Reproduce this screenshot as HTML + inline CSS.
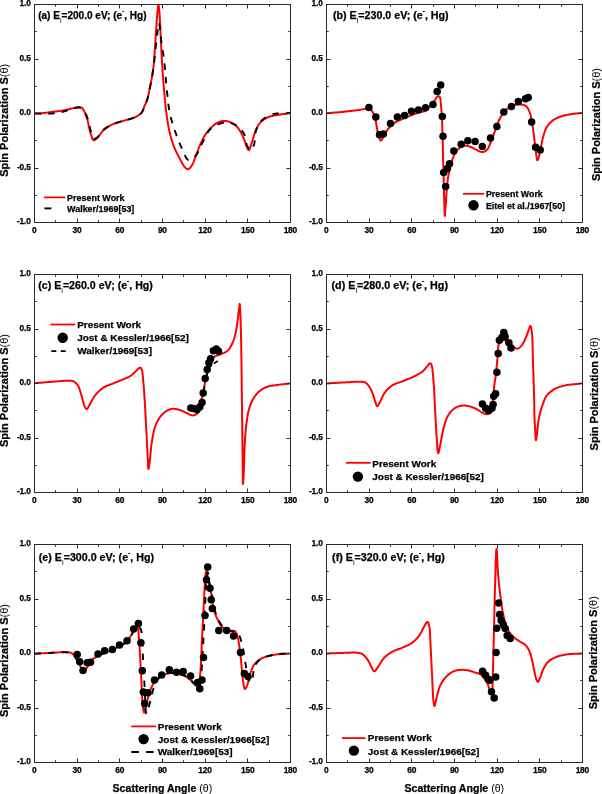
<!DOCTYPE html><html><head><meta charset="utf-8"><style>html,body{margin:0;padding:0;background:#fff;overflow:hidden}svg{display:block;will-change:transform}text{font-family:"Liberation Sans", sans-serif;font-weight:bold;fill:#000;stroke:#000;stroke-width:0.25px}.n{font-weight:normal;stroke-width:0}</style></head><body>
<svg width="602" height="794" viewBox="0 0 602 794">
<rect width="602" height="794" fill="#fff"/>
<clipPath id="ca"><rect x="34.50" y="3.50" width="256.00" height="220.00"/></clipPath>
<g clip-path="url(#ca)">
<path d="M34.70 113.30L35.31 113.29L35.91 113.29L36.51 113.30L37.11 113.30L37.71 113.30L38.31 113.30L38.92 113.30L39.52 113.30L40.14 113.29L40.75 113.27L41.37 113.24L42.00 113.20L42.69 113.15L43.37 113.08L44.06 113.00L44.75 112.92L45.44 112.83L46.14 112.73L46.85 112.63L47.57 112.53L48.30 112.42L49.05 112.31L49.82 112.21L50.60 112.10L51.62 111.97L52.69 111.83L53.80 111.70L54.94 111.56L56.11 111.41L57.28 111.26L58.45 111.11L59.61 110.96L60.74 110.80L61.84 110.64L62.90 110.47L63.90 110.30L64.65 110.16L65.38 110.02L66.09 109.87L66.78 109.71L67.45 109.56L68.12 109.40L68.78 109.25L69.42 109.09L70.07 108.94L70.71 108.79L71.35 108.64L72.00 108.50L72.60 108.37L73.22 108.22L73.84 108.07L74.46 107.91L75.08 107.76L75.69 107.61L76.29 107.48L76.86 107.35L77.42 107.25L77.95 107.17L78.44 107.12L78.90 107.10L79.16 107.10L79.42 107.11L79.66 107.12L79.89 107.14L80.12 107.17L80.34 107.21L80.55 107.25L80.75 107.30L80.95 107.36L81.14 107.43L81.32 107.51L81.50 107.60L81.65 107.69L81.80 107.78L81.93 107.88L82.06 107.99L82.18 108.10L82.30 108.23L82.42 108.35L82.54 108.49L82.65 108.63L82.76 108.78L82.88 108.94L83.00 109.10L83.17 109.35L83.35 109.62L83.52 109.91L83.69 110.21L83.86 110.53L84.02 110.86L84.19 111.20L84.35 111.55L84.52 111.91L84.68 112.27L84.84 112.63L85.00 113.00L85.19 113.45L85.38 113.90L85.57 114.36L85.75 114.82L85.93 115.30L86.12 115.79L86.30 116.29L86.48 116.81L86.66 117.35L86.84 117.91L87.02 118.49L87.20 119.10L87.48 120.09L87.75 121.18L88.03 122.36L88.31 123.60L88.58 124.88L88.86 126.19L89.14 127.49L89.42 128.76L89.69 129.99L89.96 131.16L90.23 132.23L90.50 133.20L90.67 133.77L90.84 134.33L91.01 134.88L91.18 135.41L91.35 135.92L91.52 136.41L91.68 136.88L91.85 137.32L92.01 137.74L92.18 138.12L92.34 138.48L92.50 138.80L92.58 138.96L92.66 139.12L92.74 139.27L92.82 139.42L92.89 139.56L92.97 139.69L93.04 139.81L93.12 139.91L93.21 140.01L93.30 140.09L93.40 140.15L93.50 140.20L93.61 140.23L93.72 140.24L93.84 140.24L93.96 140.22L94.08 140.19L94.21 140.15L94.34 140.10L94.47 140.05L94.61 139.99L94.74 139.93L94.87 139.86L95.00 139.80L95.17 139.71L95.33 139.62L95.49 139.53L95.66 139.42L95.82 139.30L95.99 139.18L96.16 139.05L96.33 138.90L96.51 138.75L96.70 138.58L96.90 138.40L97.10 138.20L97.54 137.74L98.00 137.18L98.50 136.54L99.01 135.83L99.56 135.08L100.12 134.30L100.70 133.50L101.30 132.71L101.91 131.93L102.53 131.20L103.16 130.51L103.80 129.90L104.42 129.36L105.05 128.85L105.70 128.35L106.36 127.88L107.03 127.42L107.71 126.98L108.41 126.55L109.12 126.14L109.84 125.74L110.58 125.35L111.33 124.97L112.10 124.60L112.99 124.20L113.93 123.81L114.91 123.43L115.91 123.08L116.93 122.73L117.96 122.40L118.98 122.09L120.00 121.79L120.98 121.50L121.94 121.22L122.85 120.95L123.70 120.70L124.29 120.53L124.86 120.36L125.42 120.22L125.96 120.07L126.49 119.94L127.00 119.81L127.51 119.68L128.01 119.56L128.51 119.43L129.01 119.29L129.50 119.15L130.00 119.00L130.46 118.85L130.93 118.71L131.40 118.56L131.86 118.40L132.32 118.25L132.78 118.09L133.22 117.93L133.66 117.77L134.09 117.61L134.51 117.44L134.91 117.27L135.30 117.10L135.60 116.96L135.90 116.82L136.18 116.67L136.46 116.53L136.73 116.38L137.00 116.23L137.26 116.08L137.51 115.93L137.76 115.78L138.01 115.62L138.26 115.46L138.50 115.30L138.72 115.15L138.94 115.01L139.15 114.86L139.36 114.71L139.56 114.56L139.77 114.41L139.97 114.26L140.16 114.10L140.35 113.93L140.54 113.76L140.72 113.59L140.90 113.40L141.08 113.20L141.26 112.99L141.43 112.78L141.60 112.56L141.76 112.33L141.92 112.10L142.08 111.87L142.23 111.62L142.37 111.38L142.52 111.12L142.66 110.86L142.80 110.60L142.95 110.28L143.10 109.96L143.23 109.62L143.36 109.28L143.49 108.93L143.61 108.57L143.73 108.21L143.85 107.83L143.98 107.46L144.11 107.08L144.25 106.69L144.40 106.30L144.60 105.82L144.81 105.33L145.03 104.84L145.26 104.34L145.50 103.83L145.73 103.31L145.97 102.78L146.21 102.24L146.45 101.68L146.67 101.11L146.89 100.51L147.10 99.90L147.36 99.05L147.61 98.15L147.86 97.21L148.09 96.23L148.32 95.23L148.54 94.20L148.76 93.17L148.97 92.13L149.18 91.10L149.39 90.08L149.60 89.08L149.80 88.10L149.99 87.19L150.18 86.29L150.37 85.39L150.55 84.50L150.73 83.61L150.91 82.72L151.08 81.84L151.25 80.95L151.42 80.07L151.58 79.18L151.74 78.29L151.90 77.40L152.05 76.52L152.20 75.64L152.35 74.78L152.49 73.92L152.63 73.06L152.76 72.19L152.89 71.32L153.02 70.43L153.15 69.53L153.27 68.61L153.39 67.67L153.50 66.70L153.63 65.48L153.76 64.22L153.88 62.93L154.00 61.60L154.11 60.26L154.21 58.89L154.32 57.52L154.41 56.14L154.51 54.77L154.61 53.40L154.70 52.04L154.80 50.70L154.89 49.39L154.98 48.10L155.06 46.82L155.14 45.54L155.22 44.26L155.30 42.98L155.38 41.70L155.46 40.40L155.54 39.08L155.62 37.75L155.71 36.39L155.80 35.00L155.91 33.33L156.03 31.58L156.14 29.76L156.27 27.91L156.39 26.03L156.52 24.15L156.64 22.30L156.77 20.48L156.90 18.72L157.03 17.04L157.17 15.46L157.30 14.00L157.39 13.04L157.48 12.04L157.57 11.00L157.66 9.97L157.75 8.97L157.84 8.02L157.94 7.14L158.03 6.37L158.12 5.72L158.21 5.23L158.31 4.91L158.40 4.80L158.48 4.88L158.57 5.13L158.65 5.51L158.74 6.01L158.83 6.61L158.92 7.29L159.00 8.04L159.09 8.82L159.17 9.63L159.25 10.44L159.33 11.24L159.40 12.00L159.51 13.21L159.61 14.49L159.70 15.86L159.78 17.29L159.87 18.77L159.94 20.31L160.02 21.88L160.09 23.48L160.17 25.10L160.24 26.73L160.32 28.37L160.40 30.00L160.50 31.94L160.59 33.93L160.69 35.96L160.78 38.03L160.88 40.13L160.97 42.25L161.07 44.38L161.17 46.52L161.27 48.66L161.38 50.79L161.49 52.91L161.60 55.00L161.72 57.09L161.84 59.18L161.96 61.29L162.09 63.40L162.22 65.52L162.35 67.62L162.48 69.72L162.62 71.80L162.76 73.87L162.90 75.91L163.05 77.92L163.20 79.90L163.34 81.67L163.49 83.46L163.64 85.24L163.79 87.02L163.95 88.78L164.11 90.52L164.26 92.23L164.42 93.90L164.57 95.51L164.72 97.08L164.86 98.58L165.00 100.00L165.09 100.95L165.17 101.85L165.25 102.70L165.33 103.53L165.40 104.33L165.48 105.11L165.55 105.89L165.63 106.67L165.71 107.46L165.80 108.27L165.90 109.12L166.00 110.00L166.13 111.10L166.27 112.24L166.42 113.41L166.57 114.60L166.73 115.81L166.89 117.03L167.06 118.25L167.24 119.47L167.42 120.68L167.61 121.88L167.80 123.05L168.00 124.20L168.19 125.24L168.38 126.27L168.57 127.28L168.76 128.29L168.96 129.29L169.17 130.28L169.39 131.27L169.61 132.25L169.84 133.24L170.08 134.22L170.33 135.21L170.60 136.20L170.88 137.21L171.17 138.22L171.47 139.24L171.78 140.25L172.09 141.27L172.42 142.28L172.76 143.28L173.10 144.29L173.46 145.28L173.83 146.26L174.21 147.24L174.60 148.20L174.99 149.12L175.40 150.04L175.83 150.96L176.26 151.87L176.71 152.77L177.16 153.67L177.62 154.55L178.08 155.43L178.54 156.29L179.00 157.14L179.45 157.98L179.90 158.80L180.29 159.53L180.68 160.27L181.07 161.01L181.45 161.76L181.84 162.49L182.23 163.21L182.62 163.91L183.01 164.57L183.40 165.20L183.80 165.79L184.20 166.32L184.60 166.80L184.87 167.10L185.14 167.39L185.41 167.69L185.68 167.97L185.96 168.23L186.23 168.47L186.51 168.69L186.79 168.87L187.06 169.02L187.34 169.13L187.62 169.19L187.90 169.20L188.23 169.14L188.57 169.00L188.92 168.80L189.26 168.54L189.62 168.23L189.96 167.88L190.31 167.50L190.65 167.10L190.98 166.68L191.30 166.25L191.61 165.82L191.90 165.40L192.24 164.87L192.55 164.31L192.85 163.71L193.12 163.09L193.38 162.44L193.64 161.78L193.89 161.09L194.13 160.39L194.39 159.68L194.64 158.96L194.91 158.23L195.20 157.50L195.56 156.59L195.93 155.64L196.30 154.66L196.68 153.65L197.06 152.63L197.45 151.60L197.85 150.56L198.24 149.52L198.65 148.49L199.06 147.47L199.48 146.47L199.90 145.50L200.31 144.58L200.72 143.66L201.13 142.74L201.54 141.82L201.96 140.91L202.39 140.01L202.82 139.12L203.27 138.24L203.73 137.38L204.20 136.53L204.69 135.71L205.20 134.90L205.69 134.16L206.20 133.43L206.72 132.70L207.25 131.99L207.79 131.29L208.34 130.60L208.90 129.94L209.47 129.29L210.04 128.65L210.62 128.05L211.21 127.46L211.80 126.90L212.33 126.42L212.86 125.95L213.41 125.49L213.95 125.04L214.51 124.61L215.06 124.19L215.63 123.80L216.19 123.43L216.76 123.08L217.34 122.76L217.92 122.46L218.50 122.20L219.03 121.98L219.57 121.78L220.12 121.60L220.66 121.44L221.22 121.30L221.77 121.17L222.33 121.07L222.88 120.99L223.44 120.93L224.00 120.90L224.55 120.89L225.10 120.90L225.66 120.94L226.23 121.01L226.81 121.11L227.38 121.24L227.96 121.39L228.53 121.56L229.10 121.75L229.66 121.95L230.22 122.17L230.76 122.40L231.29 122.65L231.80 122.90L232.29 123.15L232.76 123.42L233.23 123.69L233.68 123.98L234.13 124.28L234.57 124.60L235.01 124.94L235.44 125.29L235.86 125.66L236.28 126.05L236.69 126.46L237.10 126.90L237.62 127.49L238.13 128.14L238.63 128.82L239.13 129.55L239.62 130.30L240.10 131.08L240.57 131.87L241.02 132.68L241.47 133.49L241.89 134.30L242.31 135.11L242.70 135.90L243.07 136.69L243.41 137.50L243.74 138.33L244.05 139.18L244.35 140.03L244.64 140.88L244.92 141.71L245.19 142.54L245.47 143.33L245.74 144.10L246.02 144.82L246.30 145.50L246.51 145.99L246.71 146.50L246.91 147.03L247.11 147.56L247.31 148.07L247.50 148.56L247.70 149.01L247.90 149.41L248.10 149.74L248.30 149.99L248.50 150.15L248.70 150.20L248.95 150.11L249.19 149.85L249.44 149.46L249.69 148.96L249.94 148.35L250.19 147.67L250.44 146.93L250.69 146.16L250.94 145.37L251.19 144.58L251.45 143.82L251.70 143.10L252.04 142.14L252.37 141.10L252.69 140.00L253.02 138.87L253.34 137.70L253.67 136.51L254.01 135.33L254.35 134.16L254.71 133.02L255.09 131.92L255.48 130.87L255.90 129.90L256.25 129.15L256.60 128.41L256.95 127.70L257.31 127.00L257.68 126.32L258.06 125.66L258.45 125.01L258.86 124.39L259.29 123.79L259.74 123.20L260.21 122.64L260.70 122.10L261.20 121.60L261.72 121.11L262.26 120.65L262.82 120.21L263.40 119.78L263.99 119.37L264.59 118.98L265.21 118.61L265.84 118.26L266.49 117.92L267.14 117.60L267.80 117.30L268.52 117.00L269.27 116.74L270.02 116.50L270.80 116.29L271.58 116.10L272.38 115.92L273.20 115.76L274.02 115.61L274.85 115.46L275.70 115.31L276.54 115.16L277.40 115.00L278.39 114.82L279.40 114.65L280.42 114.49L281.47 114.34L282.52 114.19L283.59 114.05L284.66 113.91L285.73 113.77L286.81 113.63L287.88 113.49L288.94 113.35L290.00 113.20" fill="none" stroke="#f00" stroke-width="2" stroke-linejoin="round"/>
<path d="M34.70 113.60L35.99 113.60L37.29 113.62L38.60 113.64L39.92 113.66L41.24 113.68L42.55 113.69L43.86 113.71L45.14 113.71L46.41 113.71L47.64 113.69L48.84 113.65L50.00 113.60L50.91 113.55L51.79 113.49L52.66 113.44L53.50 113.37L54.33 113.30L55.15 113.23L55.96 113.14L56.76 113.04L57.56 112.93L58.37 112.80L59.18 112.66L60.00 112.50L60.84 112.31L61.68 112.10L62.52 111.86L63.37 111.61L64.21 111.34L65.04 111.06L65.88 110.78L66.71 110.50L67.54 110.23L68.36 109.97L69.18 109.72L70.00 109.50L70.77 109.29L71.55 109.05L72.34 108.80L73.14 108.55L73.93 108.30L74.71 108.07L75.48 107.86L76.22 107.69L76.95 107.56L77.64 107.47L78.29 107.45L78.90 107.50L79.31 107.57L79.70 107.67L80.08 107.79L80.44 107.93L80.78 108.09L81.12 108.27L81.44 108.48L81.76 108.70L82.07 108.95L82.38 109.21L82.69 109.50L83.00 109.80L83.43 110.27L83.86 110.81L84.27 111.39L84.68 112.03L85.07 112.70L85.45 113.41L85.83 114.14L86.19 114.90L86.53 115.67L86.87 116.45L87.19 117.23L87.50 118.00L87.83 118.91L88.13 119.87L88.40 120.86L88.65 121.88L88.89 122.91L89.11 123.96L89.33 125.01L89.55 126.06L89.77 127.09L90.00 128.09L90.24 129.07L90.50 130.00L90.73 130.81L90.94 131.67L91.15 132.55L91.35 133.45L91.56 134.33L91.78 135.18L92.01 135.99L92.25 136.72L92.52 137.37L92.81 137.91L93.14 138.33L93.50 138.60L93.75 138.70L94.02 138.75L94.30 138.75L94.59 138.72L94.89 138.65L95.20 138.55L95.51 138.42L95.83 138.26L96.15 138.09L96.47 137.90L96.78 137.71L97.10 137.50L97.62 137.09L98.14 136.58L98.67 135.97L99.19 135.29L99.73 134.56L100.27 133.80L100.82 133.01L101.39 132.23L101.97 131.47L102.56 130.75L103.17 130.09L103.80 129.50L104.42 128.99L105.06 128.51L105.70 128.05L106.36 127.61L107.03 127.20L107.72 126.79L108.42 126.41L109.13 126.03L109.85 125.67L110.59 125.31L111.34 124.95L112.10 124.60L112.99 124.21L113.94 123.83L114.91 123.46L115.92 123.11L116.94 122.76L117.97 122.43L118.99 122.11L120.00 121.80L120.99 121.51L121.94 121.22L122.85 120.96L123.70 120.70L124.29 120.53L124.86 120.36L125.42 120.22L125.96 120.07L126.49 119.94L127.00 119.81L127.51 119.68L128.01 119.56L128.51 119.43L129.01 119.29L129.50 119.15L130.00 119.00L130.46 118.85L130.93 118.71L131.40 118.56L131.86 118.40L132.32 118.25L132.78 118.09L133.22 117.93L133.66 117.77L134.09 117.61L134.51 117.44L134.91 117.27L135.30 117.10L135.60 116.96L135.90 116.82L136.18 116.67L136.46 116.53L136.73 116.38L137.00 116.23L137.26 116.08L137.51 115.93L137.76 115.78L138.01 115.62L138.26 115.46L138.50 115.30L138.72 115.15L138.94 115.01L139.15 114.86L139.36 114.71L139.56 114.56L139.77 114.41L139.97 114.26L140.16 114.10L140.35 113.93L140.54 113.76L140.72 113.59L140.90 113.40L141.08 113.20L141.26 112.99L141.43 112.78L141.60 112.56L141.76 112.33L141.92 112.10L142.08 111.87L142.23 111.62L142.37 111.38L142.52 111.12L142.66 110.86L142.80 110.60L142.95 110.28L143.10 109.96L143.23 109.62L143.36 109.28L143.49 108.93L143.61 108.57L143.73 108.21L143.85 107.83L143.98 107.46L144.11 107.08L144.25 106.69L144.40 106.30L144.60 105.82L144.81 105.33L145.03 104.84L145.26 104.34L145.50 103.83L145.73 103.31L145.97 102.78L146.21 102.24L146.45 101.68L146.67 101.11L146.89 100.51L147.10 99.90L147.36 99.05L147.61 98.15L147.86 97.21L148.09 96.23L148.32 95.23L148.54 94.20L148.76 93.17L148.97 92.13L149.18 91.10L149.39 90.08L149.60 89.08L149.80 88.10L149.99 87.19L150.18 86.29L150.37 85.39L150.55 84.50L150.73 83.61L150.91 82.72L151.08 81.84L151.25 80.95L151.42 80.07L151.58 79.18L151.74 78.29L151.90 77.40L152.05 76.51L152.20 75.62L152.34 74.74L152.48 73.85L152.61 72.97L152.75 72.08L152.88 71.20L153.00 70.31L153.13 69.41L153.25 68.51L153.38 67.61L153.50 66.70L153.63 65.75L153.75 64.81L153.87 63.86L153.98 62.92L154.09 61.97L154.21 61.02L154.32 60.06L154.43 59.08L154.55 58.09L154.66 57.08L154.78 56.05L154.90 55.00L155.05 53.69L155.20 52.34L155.35 50.95L155.50 49.53L155.66 48.09L155.81 46.63L155.97 45.17L156.13 43.71L156.30 42.25L156.46 40.81L156.63 39.39L156.80 38.00L156.97 36.61L157.14 35.08L157.31 33.45L157.49 31.78L157.67 30.12L157.85 28.51L158.03 27.01L158.21 25.66L158.39 24.53L158.57 23.66L158.74 23.10L158.90 22.90L159.02 23.02L159.15 23.35L159.27 23.87L159.39 24.55L159.51 25.35L159.63 26.25L159.74 27.22L159.86 28.22L159.97 29.23L160.08 30.22L160.19 31.15L160.30 32.00L160.42 32.89L160.53 33.78L160.63 34.69L160.73 35.60L160.83 36.52L160.93 37.45L161.03 38.39L161.14 39.34L161.24 40.29L161.35 41.25L161.47 42.22L161.60 43.20L161.75 44.31L161.92 45.42L162.09 46.56L162.27 47.70L162.45 48.86L162.64 50.02L162.83 51.19L163.02 52.37L163.20 53.55L163.37 54.73L163.54 55.92L163.70 57.10L163.86 58.33L164.01 59.57L164.15 60.82L164.29 62.08L164.43 63.33L164.57 64.60L164.70 65.86L164.82 67.12L164.95 68.37L165.07 69.62L165.18 70.87L165.30 72.10L165.41 73.28L165.50 74.45L165.59 75.61L165.68 76.77L165.76 77.93L165.85 79.08L165.93 80.24L166.01 81.39L166.10 82.54L166.19 83.69L166.29 84.84L166.40 86.00L166.52 87.16L166.64 88.32L166.76 89.49L166.89 90.66L167.03 91.82L167.16 92.99L167.30 94.15L167.44 95.31L167.58 96.47L167.72 97.62L167.86 98.76L168.00 99.90L168.12 100.98L168.23 102.03L168.33 103.08L168.43 104.11L168.52 105.14L168.62 106.17L168.73 107.21L168.86 108.26L169.00 109.33L169.17 110.42L169.37 111.54L169.60 112.70L169.95 114.25L170.35 115.88L170.80 117.57L171.28 119.30L171.80 121.06L172.34 122.84L172.90 124.62L173.47 126.38L174.04 128.12L174.61 129.81L175.16 131.44L175.70 133.00L176.13 134.25L176.56 135.46L176.99 136.65L177.42 137.81L177.85 138.95L178.28 140.07L178.72 141.18L179.17 142.29L179.63 143.39L180.10 144.49L180.59 145.59L181.10 146.70L181.63 147.89L182.18 149.18L182.75 150.53L183.33 151.92L183.93 153.30L184.53 154.65L185.14 155.91L185.75 157.07L186.37 158.09L186.98 158.92L187.59 159.53L188.20 159.90L188.51 159.99L188.83 160.01L189.15 159.99L189.47 159.91L189.78 159.80L190.10 159.65L190.42 159.48L190.74 159.30L191.06 159.10L191.37 158.89L191.69 158.69L192.00 158.50L192.37 158.28L192.74 158.04L193.12 157.79L193.49 157.53L193.85 157.26L194.22 156.96L194.59 156.65L194.95 156.31L195.32 155.95L195.68 155.56L196.04 155.15L196.40 154.70L196.97 153.90L197.54 152.99L198.10 151.97L198.65 150.88L199.21 149.73L199.76 148.54L200.31 147.32L200.86 146.08L201.42 144.86L201.97 143.66L202.53 142.50L203.10 141.40L203.63 140.38L204.13 139.35L204.62 138.31L205.11 137.27L205.60 136.24L206.10 135.22L206.61 134.22L207.15 133.25L207.72 132.32L208.33 131.43L208.99 130.59L209.70 129.80L210.46 129.08L211.28 128.39L212.17 127.72L213.09 127.09L214.05 126.49L215.02 125.92L216.00 125.40L216.97 124.91L217.91 124.46L218.83 124.06L219.69 123.71L220.50 123.40L221.01 123.23L221.51 123.08L222.00 122.95L222.47 122.85L222.94 122.76L223.40 122.69L223.85 122.64L224.30 122.60L224.73 122.56L225.16 122.54L225.58 122.52L226.00 122.50L226.33 122.49L226.65 122.48L226.96 122.48L227.26 122.48L227.56 122.49L227.85 122.51L228.14 122.54L228.44 122.57L228.74 122.61L229.05 122.67L229.37 122.73L229.70 122.80L230.15 122.91L230.61 123.02L231.09 123.15L231.57 123.29L232.06 123.44L232.57 123.61L233.07 123.80L233.58 124.01L234.09 124.25L234.59 124.50L235.10 124.79L235.60 125.10L236.30 125.58L237.02 126.11L237.77 126.69L238.52 127.31L239.28 127.98L240.03 128.69L240.77 129.43L241.48 130.20L242.15 131.00L242.79 131.81L243.37 132.65L243.90 133.50L244.38 134.48L244.79 135.56L245.12 136.71L245.40 137.92L245.64 139.16L245.86 140.41L246.07 141.64L246.29 142.83L246.52 143.95L246.80 144.99L247.12 145.91L247.50 146.70L247.77 147.14L248.05 147.57L248.35 148.00L248.65 148.42L248.97 148.81L249.29 149.16L249.61 149.48L249.93 149.75L250.24 149.97L250.54 150.12L250.83 150.20L251.10 150.20L251.40 150.09L251.69 149.86L251.97 149.54L252.24 149.12L252.51 148.64L252.77 148.09L253.01 147.49L253.25 146.87L253.48 146.22L253.70 145.57L253.90 144.92L254.10 144.30L254.34 143.39L254.52 142.40L254.66 141.34L254.77 140.22L254.86 139.07L254.95 137.89L255.03 136.70L255.13 135.51L255.25 134.35L255.42 133.21L255.63 132.13L255.90 131.10L256.18 130.22L256.46 129.34L256.76 128.48L257.08 127.63L257.42 126.79L257.78 125.97L258.17 125.17L258.60 124.39L259.06 123.63L259.56 122.89L260.10 122.18L260.70 121.50L261.44 120.75L262.25 120.02L263.11 119.31L264.03 118.63L265.00 117.98L266.01 117.35L267.05 116.76L268.13 116.21L269.23 115.69L270.34 115.22L271.47 114.79L272.60 114.40L273.90 114.04L275.25 113.76L276.65 113.56L278.08 113.42L279.55 113.32L281.03 113.27L282.53 113.23L284.04 113.21L285.55 113.19L287.05 113.15L288.54 113.09L290.00 113.00" fill="none" stroke="#000" stroke-width="1.9" stroke-dasharray="6.5 7" stroke-linejoin="round"/>
</g>
<rect x="34.50" y="4.50" width="256.00" height="218.00" fill="none" stroke="#2a2a2a" stroke-width="1"/>
<path d="M55.50 222.50V220.30M55.50 4.50V6.70M77.50 222.50V218.50M77.50 4.50V8.50M98.50 222.50V220.30M98.50 4.50V6.70M119.50 222.50V218.50M119.50 4.50V8.50M141.50 222.50V220.30M141.50 4.50V6.70M162.50 222.50V218.50M162.50 4.50V8.50M183.50 222.50V220.30M183.50 4.50V6.70M205.50 222.50V218.50M205.50 4.50V8.50M226.50 222.50V220.30M226.50 4.50V6.70M247.50 222.50V218.50M247.50 4.50V8.50M269.50 222.50V220.30M269.50 4.50V6.70M34.50 31.50H36.70M290.50 31.50H288.30M34.50 59.50H38.50M290.50 59.50H286.50M34.50 86.50H36.70M290.50 86.50H288.30M34.50 113.50H38.50M290.50 113.50H286.50M34.50 140.50H36.70M290.50 140.50H288.30M34.50 168.50H38.50M290.50 168.50H286.50M34.50 195.50H36.70M290.50 195.50H288.30" stroke="#2a2a2a" stroke-width="1" fill="none"/>
<text x="34.35" y="233.30" font-size="8.4" text-anchor="middle" letter-spacing="-0.2">0</text>
<text x="77.02" y="233.30" font-size="8.4" text-anchor="middle" letter-spacing="-0.2">30</text>
<text x="119.68" y="233.30" font-size="8.4" text-anchor="middle" letter-spacing="-0.2">60</text>
<text x="162.35" y="233.30" font-size="8.4" text-anchor="middle" letter-spacing="-0.2">90</text>
<text x="205.02" y="233.30" font-size="8.4" text-anchor="middle" letter-spacing="-0.2">120</text>
<text x="247.68" y="233.30" font-size="8.4" text-anchor="middle" letter-spacing="-0.2">150</text>
<text x="290.35" y="233.30" font-size="8.4" text-anchor="middle" letter-spacing="-0.2">180</text>
<text x="30.60" y="6.40" font-size="8.4" text-anchor="end" letter-spacing="-0.2">1.0</text>
<text x="30.60" y="60.90" font-size="8.4" text-anchor="end" letter-spacing="-0.2">0.5</text>
<text x="30.60" y="115.40" font-size="8.4" text-anchor="end" letter-spacing="-0.2">0.0</text>
<text x="30.60" y="169.90" font-size="8.4" text-anchor="end" letter-spacing="-0.2">-0.5</text>
<text x="30.60" y="224.40" font-size="8.4" text-anchor="end" letter-spacing="-0.2">-1.0</text>
<text x="38.20" y="18.80" font-size="10.05">(a) E<tspan font-size="7.04" dy="3.82" class="n">i</tspan><tspan dy="-3.82">=200.0 eV; (e</tspan><tspan font-size="6.03" dy="-5.53">-</tspan><tspan dy="5.53">, Hg)</tspan></text>
<clipPath id="cb"><rect x="326.50" y="3.50" width="256.00" height="220.00"/></clipPath>
<g clip-path="url(#cb)">
<path d="M326.60 113.20L327.93 113.09L329.26 112.99L330.59 112.89L331.92 112.79L333.25 112.69L334.58 112.59L335.91 112.49L337.25 112.38L338.58 112.27L339.92 112.15L341.26 112.03L342.60 111.90L343.99 111.76L345.42 111.60L346.86 111.44L348.33 111.28L349.79 111.11L351.24 110.93L352.68 110.75L354.08 110.58L355.45 110.40L356.76 110.23L358.02 110.06L359.20 109.90L360.01 109.78L360.82 109.65L361.61 109.52L362.39 109.38L363.15 109.25L363.88 109.12L364.59 108.99L365.26 108.88L365.89 108.78L366.48 108.70L367.02 108.64L367.50 108.60L367.71 108.59L367.91 108.57L368.10 108.56L368.27 108.55L368.44 108.54L368.60 108.53L368.75 108.54L368.90 108.55L369.04 108.57L369.19 108.60L369.34 108.64L369.50 108.70L369.69 108.79L369.88 108.90L370.07 109.03L370.26 109.17L370.45 109.33L370.63 109.50L370.81 109.68L370.99 109.87L371.17 110.07L371.35 110.28L371.53 110.49L371.70 110.70L371.92 110.98L372.15 111.28L372.37 111.59L372.60 111.92L372.82 112.25L373.04 112.60L373.25 112.97L373.46 113.34L373.66 113.72L373.85 114.10L374.03 114.50L374.20 114.90L374.38 115.38L374.55 115.87L374.70 116.37L374.84 116.88L374.96 117.40L375.08 117.94L375.20 118.49L375.31 119.06L375.42 119.64L375.54 120.24L375.67 120.86L375.80 121.50L375.99 122.46L376.18 123.51L376.37 124.63L376.56 125.80L376.75 127.00L376.95 128.22L377.15 129.43L377.35 130.62L377.57 131.77L377.80 132.86L378.04 133.88L378.30 134.80L378.48 135.41L378.67 136.05L378.86 136.69L379.06 137.34L379.26 137.96L379.47 138.55L379.68 139.09L379.89 139.57L380.11 139.98L380.34 140.30L380.57 140.51L380.80 140.60L380.99 140.58L381.19 140.48L381.39 140.31L381.59 140.09L381.79 139.81L382.00 139.49L382.21 139.15L382.43 138.78L382.64 138.40L382.86 138.02L383.08 137.65L383.30 137.30L383.62 136.78L383.93 136.22L384.25 135.63L384.57 135.00L384.89 134.35L385.23 133.68L385.57 133.01L385.92 132.34L386.29 131.67L386.67 131.02L387.07 130.40L387.50 129.80L387.97 129.20L388.45 128.60L388.95 128.01L389.47 127.42L390.00 126.84L390.55 126.27L391.11 125.72L391.69 125.18L392.28 124.65L392.87 124.15L393.48 123.66L394.10 123.20L394.73 122.77L395.37 122.36L396.03 121.97L396.71 121.61L397.39 121.26L398.08 120.93L398.79 120.60L399.50 120.28L400.22 119.97L400.94 119.65L401.67 119.33L402.40 119.00L403.20 118.64L404.02 118.28L404.85 117.92L405.70 117.57L406.56 117.22L407.41 116.87L408.27 116.53L409.12 116.19L409.97 115.86L410.80 115.53L411.61 115.21L412.40 114.90L413.07 114.63L413.73 114.36L414.39 114.10L415.04 113.83L415.68 113.57L416.32 113.32L416.95 113.07L417.57 112.83L418.19 112.61L418.80 112.39L419.40 112.19L420.00 112.00L420.51 111.87L421.00 111.77L421.50 111.70L421.98 111.64L422.47 111.59L422.95 111.54L423.42 111.48L423.90 111.40L424.37 111.30L424.85 111.15L425.32 110.95L425.80 110.70L426.50 110.22L427.21 109.63L427.94 108.93L428.66 108.16L429.39 107.32L430.11 106.44L430.82 105.54L431.51 104.64L432.17 103.76L432.82 102.91L433.43 102.12L434.00 101.40L434.39 100.89L434.77 100.35L435.14 99.79L435.49 99.23L435.84 98.68L436.17 98.15L436.49 97.65L436.81 97.21L437.11 96.83L437.41 96.52L437.71 96.31L438.00 96.20L438.16 96.18L438.33 96.19L438.49 96.22L438.66 96.28L438.82 96.35L438.97 96.44L439.13 96.55L439.27 96.68L439.42 96.82L439.55 96.97L439.68 97.13L439.80 97.30L440.00 97.68L440.16 98.13L440.30 98.65L440.40 99.24L440.49 99.87L440.56 100.55L440.62 101.25L440.67 101.98L440.71 102.72L440.77 103.46L440.83 104.19L440.90 104.90L441.00 105.78L441.10 106.69L441.19 107.63L441.28 108.58L441.37 109.56L441.46 110.54L441.55 111.54L441.63 112.54L441.70 113.54L441.77 114.54L441.84 115.52L441.90 116.50L441.95 117.47L442.00 118.43L442.04 119.40L442.08 120.36L442.11 121.33L442.14 122.30L442.16 123.26L442.19 124.23L442.21 125.20L442.24 126.16L442.27 127.13L442.30 128.10L442.33 129.06L442.37 130.01L442.40 130.95L442.44 131.88L442.47 132.81L442.51 133.75L442.54 134.70L442.57 135.66L442.61 136.65L442.64 137.67L442.67 138.71L442.70 139.80L442.74 141.30L442.77 142.87L442.81 144.51L442.84 146.20L442.87 147.93L442.90 149.68L442.93 151.45L442.96 153.21L442.99 154.97L443.03 156.69L443.06 158.37L443.10 160.00L443.14 161.42L443.18 162.81L443.22 164.18L443.26 165.52L443.30 166.85L443.34 168.18L443.38 169.51L443.43 170.85L443.47 172.21L443.51 173.60L443.56 175.03L443.60 176.50L443.65 178.31L443.70 180.20L443.75 182.14L443.79 184.13L443.84 186.14L443.89 188.16L443.94 190.19L443.99 192.20L444.04 194.18L444.09 196.11L444.15 197.99L444.20 199.80L444.25 201.36L444.29 203.04L444.34 204.82L444.38 206.62L444.43 208.40L444.48 210.11L444.53 211.69L444.58 213.11L444.63 214.29L444.68 215.21L444.74 215.79L444.80 216.00L444.84 215.92L444.88 215.68L444.92 215.32L444.96 214.86L445.00 214.31L445.05 213.69L445.09 213.04L445.13 212.38L445.18 211.72L445.22 211.09L445.26 210.51L445.30 210.00L445.33 209.62L445.37 209.26L445.40 208.92L445.43 208.59L445.46 208.27L445.49 207.94L445.53 207.61L445.56 207.26L445.59 206.89L445.63 206.49L445.66 206.07L445.70 205.60L445.78 204.54L445.86 203.33L445.94 201.99L446.03 200.55L446.12 199.03L446.22 197.45L446.32 195.84L446.43 194.21L446.54 192.60L446.65 191.03L446.77 189.52L446.90 188.10L447.02 186.88L447.13 185.67L447.25 184.48L447.37 183.29L447.49 182.12L447.62 180.96L447.76 179.81L447.90 178.67L448.06 177.54L448.22 176.42L448.40 175.30L448.60 174.20L448.79 173.19L449.00 172.18L449.21 171.18L449.44 170.19L449.67 169.21L449.91 168.23L450.16 167.27L450.41 166.31L450.68 165.37L450.95 164.43L451.22 163.51L451.50 162.60L451.76 161.77L452.01 160.95L452.26 160.12L452.51 159.31L452.77 158.50L453.04 157.70L453.32 156.91L453.62 156.15L453.93 155.40L454.26 154.67L454.62 153.97L455.00 153.30L455.36 152.72L455.74 152.14L456.14 151.57L456.56 151.01L456.99 150.47L457.43 149.95L457.88 149.45L458.34 148.97L458.80 148.53L459.27 148.11L459.73 147.74L460.20 147.40L460.57 147.16L460.95 146.93L461.33 146.72L461.71 146.54L462.09 146.37L462.48 146.22L462.87 146.08L463.27 145.97L463.67 145.87L464.08 145.80L464.49 145.74L464.90 145.70L465.36 145.68L465.83 145.70L466.31 145.74L466.79 145.81L467.28 145.90L467.77 146.01L468.27 146.13L468.76 146.27L469.25 146.42L469.74 146.57L470.22 146.74L470.70 146.90L471.19 147.08L471.68 147.29L472.17 147.52L472.65 147.76L473.13 148.02L473.61 148.28L474.09 148.55L474.57 148.81L475.05 149.08L475.53 149.33L476.01 149.57L476.50 149.80L476.98 150.03L477.47 150.27L477.96 150.53L478.45 150.79L478.94 151.05L479.44 151.30L479.93 151.53L480.41 151.73L480.90 151.89L481.37 152.01L481.84 152.09L482.30 152.10L482.72 152.07L483.14 152.00L483.55 151.89L483.97 151.76L484.38 151.60L484.79 151.41L485.19 151.19L485.58 150.95L485.95 150.69L486.32 150.41L486.67 150.11L487.00 149.80L487.38 149.38L487.73 148.92L488.05 148.41L488.35 147.87L488.64 147.30L488.91 146.69L489.17 146.07L489.43 145.43L489.69 144.78L489.95 144.12L490.22 143.46L490.50 142.80L490.85 141.99L491.19 141.15L491.53 140.29L491.87 139.41L492.21 138.51L492.55 137.60L492.88 136.67L493.22 135.74L493.56 134.81L493.91 133.87L494.25 132.93L494.60 132.00L494.97 131.00L495.33 129.98L495.68 128.95L496.04 127.90L496.39 126.85L496.75 125.80L497.12 124.76L497.50 123.72L497.90 122.71L498.31 121.71L498.74 120.74L499.20 119.80L499.64 118.95L500.09 118.11L500.54 117.27L501.01 116.44L501.49 115.63L501.99 114.83L502.50 114.05L503.02 113.30L503.56 112.58L504.12 111.88L504.70 111.22L505.30 110.60L505.86 110.07L506.44 109.55L507.04 109.06L507.66 108.59L508.29 108.14L508.93 107.71L509.58 107.31L510.24 106.94L510.90 106.59L511.57 106.26L512.24 105.97L512.90 105.70L513.52 105.48L514.16 105.28L514.82 105.10L515.48 104.94L516.14 104.81L516.81 104.70L517.47 104.61L518.12 104.54L518.77 104.50L519.40 104.48L520.01 104.48L520.60 104.50L521.09 104.53L521.57 104.58L522.05 104.64L522.53 104.72L523.00 104.81L523.45 104.91L523.90 105.04L524.34 105.19L524.76 105.35L525.16 105.55L525.54 105.76L525.90 106.00L526.24 106.27L526.56 106.57L526.86 106.89L527.14 107.24L527.40 107.62L527.66 108.01L527.90 108.41L528.13 108.83L528.35 109.27L528.57 109.71L528.79 110.15L529.00 110.60L529.25 111.14L529.48 111.70L529.70 112.27L529.90 112.86L530.09 113.46L530.28 114.08L530.46 114.72L530.63 115.37L530.80 116.05L530.97 116.74L531.13 117.46L531.30 118.20L531.53 119.28L531.75 120.42L531.95 121.61L532.15 122.84L532.34 124.11L532.53 125.42L532.71 126.75L532.89 128.09L533.06 129.45L533.24 130.80L533.42 132.16L533.60 133.50L533.80 135.00L534.00 136.55L534.19 138.15L534.39 139.77L534.58 141.41L534.77 143.04L534.96 144.65L535.15 146.23L535.34 147.76L535.53 149.23L535.71 150.61L535.90 151.90L536.02 152.77L536.14 153.68L536.25 154.62L536.37 155.56L536.48 156.47L536.59 157.34L536.70 158.14L536.83 158.84L536.95 159.44L537.09 159.89L537.24 160.19L537.40 160.30L537.56 160.23L537.73 160.00L537.92 159.63L538.11 159.15L538.30 158.57L538.50 157.91L538.71 157.19L538.91 156.43L539.11 155.66L539.32 154.88L539.51 154.12L539.70 153.40L539.96 152.33L540.22 151.17L540.46 149.94L540.70 148.65L540.94 147.31L541.18 145.95L541.42 144.58L541.67 143.21L541.93 141.86L542.20 140.55L542.49 139.29L542.80 138.10L543.07 137.12L543.34 136.15L543.60 135.20L543.87 134.25L544.15 133.33L544.44 132.42L544.74 131.52L545.06 130.65L545.41 129.80L545.77 128.97L546.17 128.17L546.60 127.40L547.01 126.72L547.45 126.07L547.90 125.42L548.38 124.80L548.87 124.19L549.38 123.60L549.90 123.03L550.44 122.48L550.99 121.95L551.55 121.45L552.12 120.96L552.70 120.50L553.27 120.08L553.86 119.69L554.45 119.32L555.07 118.97L555.69 118.64L556.33 118.33L556.97 118.03L557.62 117.75L558.28 117.47L558.95 117.21L559.62 116.95L560.30 116.70L561.02 116.44L561.75 116.20L562.48 115.98L563.22 115.77L563.97 115.57L564.73 115.38L565.50 115.20L566.28 115.03L567.06 114.87L567.86 114.71L568.68 114.55L569.50 114.40L570.47 114.23L571.47 114.08L572.48 113.94L573.52 113.81L574.56 113.69L575.62 113.57L576.69 113.46L577.76 113.35L578.83 113.25L579.89 113.14L580.95 113.02L582.00 112.90" fill="none" stroke="#f00" stroke-width="2" stroke-linejoin="round"/>
<circle cx="368.9" cy="107.4" r="3.75" fill="#000"/>
<circle cx="375.8" cy="116.9" r="3.75" fill="#000"/>
<circle cx="379.5" cy="134.8" r="3.75" fill="#000"/>
<circle cx="383.3" cy="134.0" r="3.75" fill="#000"/>
<circle cx="390.5" cy="123.5" r="3.75" fill="#000"/>
<circle cx="397.4" cy="116.9" r="3.75" fill="#000"/>
<circle cx="404.6" cy="115.4" r="3.75" fill="#000"/>
<circle cx="411.5" cy="111.2" r="3.75" fill="#000"/>
<circle cx="418.5" cy="109.9" r="3.75" fill="#000"/>
<circle cx="425.5" cy="107.8" r="3.75" fill="#000"/>
<circle cx="433.0" cy="104.5" r="3.75" fill="#000"/>
<circle cx="437.2" cy="91.5" r="3.75" fill="#000"/>
<circle cx="440.7" cy="84.9" r="3.75" fill="#000"/>
<circle cx="442.3" cy="116.5" r="3.75" fill="#000"/>
<circle cx="443.0" cy="136.2" r="3.75" fill="#000"/>
<circle cx="443.7" cy="172.4" r="3.75" fill="#000"/>
<circle cx="445.7" cy="186.4" r="3.75" fill="#000"/>
<circle cx="447.4" cy="168.4" r="3.75" fill="#000"/>
<circle cx="449.5" cy="163.7" r="3.75" fill="#000"/>
<circle cx="453.8" cy="150.9" r="3.75" fill="#000"/>
<circle cx="461.2" cy="144.2" r="3.75" fill="#000"/>
<circle cx="467.8" cy="140.7" r="3.75" fill="#000"/>
<circle cx="475.1" cy="141.6" r="3.75" fill="#000"/>
<circle cx="482.3" cy="146.5" r="3.75" fill="#000"/>
<circle cx="490.5" cy="138.1" r="3.75" fill="#000"/>
<circle cx="496.9" cy="126.6" r="3.75" fill="#000"/>
<circle cx="503.8" cy="112.1" r="3.75" fill="#000"/>
<circle cx="511.4" cy="106.5" r="3.75" fill="#000"/>
<circle cx="518.3" cy="101.4" r="3.75" fill="#000"/>
<circle cx="525.5" cy="98.7" r="3.75" fill="#000"/>
<circle cx="528.2" cy="97.6" r="3.75" fill="#000"/>
<circle cx="531.6" cy="122.0" r="3.75" fill="#000"/>
<circle cx="535.6" cy="147.3" r="3.75" fill="#000"/>
<circle cx="540.2" cy="150.0" r="3.75" fill="#000"/>
</g>
<rect x="326.50" y="4.50" width="256.00" height="218.00" fill="none" stroke="#2a2a2a" stroke-width="1"/>
<path d="M347.50 222.50V220.30M347.50 4.50V6.70M369.50 222.50V218.50M369.50 4.50V8.50M390.50 222.50V220.30M390.50 4.50V6.70M411.50 222.50V218.50M411.50 4.50V8.50M433.50 222.50V220.30M433.50 4.50V6.70M454.50 222.50V218.50M454.50 4.50V8.50M475.50 222.50V220.30M475.50 4.50V6.70M497.50 222.50V218.50M497.50 4.50V8.50M518.50 222.50V220.30M518.50 4.50V6.70M539.50 222.50V218.50M539.50 4.50V8.50M561.50 222.50V220.30M561.50 4.50V6.70M326.50 31.50H328.70M582.50 31.50H580.30M326.50 59.50H330.50M582.50 59.50H578.50M326.50 86.50H328.70M582.50 86.50H580.30M326.50 113.50H330.50M582.50 113.50H578.50M326.50 140.50H328.70M582.50 140.50H580.30M326.50 168.50H330.50M582.50 168.50H578.50M326.50 195.50H328.70M582.50 195.50H580.30" stroke="#2a2a2a" stroke-width="1" fill="none"/>
<text x="326.35" y="233.30" font-size="8.4" text-anchor="middle" letter-spacing="-0.2">0</text>
<text x="369.02" y="233.30" font-size="8.4" text-anchor="middle" letter-spacing="-0.2">30</text>
<text x="411.68" y="233.30" font-size="8.4" text-anchor="middle" letter-spacing="-0.2">60</text>
<text x="454.35" y="233.30" font-size="8.4" text-anchor="middle" letter-spacing="-0.2">90</text>
<text x="497.02" y="233.30" font-size="8.4" text-anchor="middle" letter-spacing="-0.2">120</text>
<text x="539.68" y="233.30" font-size="8.4" text-anchor="middle" letter-spacing="-0.2">150</text>
<text x="582.35" y="233.30" font-size="8.4" text-anchor="middle" letter-spacing="-0.2">180</text>
<text x="322.60" y="6.40" font-size="8.4" text-anchor="end" letter-spacing="-0.2">1.0</text>
<text x="322.60" y="60.90" font-size="8.4" text-anchor="end" letter-spacing="-0.2">0.5</text>
<text x="322.60" y="115.40" font-size="8.4" text-anchor="end" letter-spacing="-0.2">0.0</text>
<text x="322.60" y="169.90" font-size="8.4" text-anchor="end" letter-spacing="-0.2">-0.5</text>
<text x="322.60" y="224.40" font-size="8.4" text-anchor="end" letter-spacing="-0.2">-1.0</text>
<text x="332.90" y="18.80" font-size="10.70">(b) E<tspan font-size="7.49" dy="4.07" class="n">i</tspan><tspan dy="-4.07">=230.0 eV; (e</tspan><tspan font-size="6.42" dy="-5.88">-</tspan><tspan dy="5.88">, Hg)</tspan></text>
<clipPath id="cc"><rect x="34.50" y="273.50" width="256.00" height="220.00"/></clipPath>
<g clip-path="url(#cc)">
<path d="M34.70 383.20L36.02 383.09L37.35 382.98L38.67 382.87L39.99 382.76L41.31 382.65L42.63 382.54L43.95 382.43L45.27 382.32L46.60 382.22L47.93 382.11L49.26 382.00L50.60 381.90L52.01 381.79L53.48 381.67L55.00 381.55L56.54 381.42L58.08 381.29L59.61 381.17L61.09 381.06L62.52 380.95L63.86 380.86L65.11 380.79L66.23 380.73L67.20 380.70L67.61 380.69L67.99 380.68L68.35 380.67L68.69 380.67L69.00 380.67L69.30 380.67L69.59 380.68L69.87 380.69L70.15 380.71L70.43 380.73L70.71 380.76L71.00 380.80L71.26 380.84L71.51 380.87L71.76 380.91L72.00 380.95L72.24 380.99L72.48 381.05L72.71 381.10L72.95 381.17L73.18 381.26L73.42 381.35L73.66 381.47L73.90 381.60L74.24 381.81L74.59 382.05L74.95 382.32L75.31 382.61L75.67 382.93L76.03 383.27L76.38 383.63L76.73 384.01L77.07 384.41L77.39 384.83L77.71 385.26L78.00 385.70L78.36 386.31L78.68 386.97L78.99 387.66L79.28 388.40L79.55 389.16L79.81 389.95L80.06 390.76L80.30 391.58L80.54 392.42L80.79 393.25L81.04 394.08L81.30 394.90L81.59 395.84L81.87 396.85L82.15 397.91L82.42 398.99L82.69 400.08L82.97 401.17L83.24 402.23L83.51 403.24L83.80 404.19L84.09 405.07L84.39 405.84L84.70 406.50L84.87 406.81L85.04 407.12L85.21 407.42L85.38 407.71L85.55 407.98L85.73 408.23L85.90 408.45L86.08 408.64L86.26 408.80L86.44 408.91L86.62 408.98L86.80 409.00L87.02 408.94L87.24 408.79L87.46 408.56L87.69 408.27L87.91 407.92L88.13 407.52L88.36 407.09L88.59 406.64L88.83 406.17L89.08 405.70L89.34 405.24L89.60 404.80L90.01 404.12L90.44 403.37L90.87 402.57L91.32 401.73L91.79 400.86L92.27 399.97L92.76 399.08L93.27 398.19L93.80 397.31L94.35 396.47L94.91 395.66L95.50 394.90L96.10 394.19L96.72 393.48L97.36 392.79L98.02 392.11L98.69 391.45L99.38 390.81L100.09 390.18L100.81 389.58L101.54 388.99L102.28 388.44L103.04 387.90L103.80 387.40L104.56 386.94L105.35 386.52L106.15 386.13L106.97 385.76L107.80 385.42L108.64 385.10L109.48 384.78L110.33 384.48L111.18 384.17L112.03 383.86L112.87 383.54L113.70 383.20L114.54 382.85L115.39 382.50L116.25 382.15L117.12 381.81L117.98 381.46L118.84 381.11L119.70 380.76L120.54 380.42L121.36 380.08L122.17 379.75L122.95 379.42L123.70 379.10L124.28 378.85L124.85 378.61L125.41 378.38L125.96 378.16L126.49 377.94L127.02 377.72L127.54 377.49L128.05 377.26L128.55 377.02L129.04 376.76L129.52 376.49L130.00 376.20L130.45 375.90L130.89 375.59L131.33 375.26L131.75 374.93L132.17 374.58L132.58 374.23L132.98 373.87L133.38 373.51L133.77 373.15L134.15 372.79L134.53 372.44L134.90 372.10L135.23 371.79L135.56 371.46L135.89 371.13L136.21 370.79L136.53 370.46L136.84 370.12L137.15 369.80L137.44 369.49L137.73 369.20L138.00 368.94L138.26 368.70L138.50 368.50L138.62 368.40L138.74 368.30L138.86 368.21L138.97 368.12L139.08 368.04L139.18 367.96L139.28 367.89L139.38 367.83L139.49 367.78L139.59 367.74L139.69 367.72L139.80 367.70L139.90 367.70L140.01 367.71L140.11 367.72L140.22 367.75L140.32 367.79L140.43 367.83L140.53 367.88L140.63 367.93L140.73 367.99L140.83 368.06L140.92 368.13L141.00 368.20L141.09 368.28L141.17 368.37L141.25 368.47L141.32 368.56L141.38 368.67L141.45 368.78L141.51 368.90L141.56 369.04L141.62 369.18L141.68 369.34L141.74 369.51L141.80 369.70L141.97 370.32L142.12 371.08L142.27 371.95L142.41 372.94L142.55 374.02L142.68 375.17L142.80 376.38L142.92 377.64L143.04 378.93L143.16 380.23L143.28 381.52L143.40 382.80L143.56 384.58L143.72 386.45L143.87 388.41L144.02 390.43L144.17 392.50L144.31 394.62L144.45 396.76L144.58 398.91L144.72 401.07L144.85 403.21L144.97 405.32L145.10 407.40L145.22 409.45L145.34 411.50L145.45 413.55L145.56 415.60L145.67 417.65L145.77 419.70L145.88 421.75L145.98 423.80L146.08 425.85L146.19 427.90L146.29 429.95L146.40 432.00L146.51 434.08L146.62 436.20L146.73 438.35L146.85 440.51L146.96 442.68L147.07 444.83L147.18 446.95L147.29 449.03L147.40 451.04L147.50 452.99L147.60 454.85L147.70 456.60L147.76 457.85L147.81 459.18L147.86 460.55L147.91 461.92L147.95 463.26L147.99 464.54L148.04 465.72L148.09 466.77L148.15 467.64L148.22 468.31L148.30 468.74L148.40 468.90L148.48 468.82L148.58 468.57L148.68 468.19L148.78 467.68L148.89 467.07L149.00 466.37L149.12 465.61L149.24 464.81L149.35 463.97L149.47 463.13L149.59 462.30L149.70 461.50L149.88 460.10L150.06 458.56L150.23 456.88L150.39 455.11L150.56 453.26L150.74 451.35L150.92 449.42L151.12 447.49L151.33 445.57L151.56 443.70L151.82 441.91L152.10 440.20L152.36 438.73L152.63 437.27L152.90 435.82L153.18 434.37L153.47 432.95L153.78 431.54L154.11 430.16L154.46 428.81L154.84 427.49L155.26 426.22L155.71 424.98L156.20 423.80L156.64 422.84L157.10 421.89L157.58 420.97L158.09 420.07L158.61 419.19L159.15 418.34L159.71 417.52L160.29 416.72L160.89 415.96L161.51 415.24L162.15 414.55L162.80 413.90L163.41 413.34L164.03 412.80L164.68 412.27L165.35 411.77L166.03 411.29L166.72 410.84L167.43 410.43L168.14 410.05L168.85 409.72L169.57 409.43L170.29 409.19L171.00 409.00L171.67 408.88L172.35 408.81L173.04 408.78L173.74 408.80L174.44 408.85L175.14 408.93L175.84 409.04L176.54 409.17L177.22 409.32L177.90 409.47L178.56 409.64L179.20 409.80L179.78 409.96L180.34 410.15L180.90 410.36L181.44 410.59L181.97 410.83L182.51 411.08L183.03 411.34L183.56 411.60L184.09 411.86L184.62 412.11L185.16 412.36L185.70 412.60L186.26 412.85L186.84 413.13L187.42 413.43L188.00 413.74L188.59 414.05L189.17 414.34L189.75 414.62L190.33 414.87L190.89 415.08L191.44 415.25L191.98 415.36L192.50 415.40L192.91 415.39L193.33 415.36L193.74 415.31L194.14 415.23L194.54 415.13L194.93 415.00L195.32 414.85L195.69 414.67L196.04 414.47L196.38 414.24L196.70 413.98L197.00 413.70L197.36 413.27L197.68 412.77L197.96 412.21L198.21 411.60L198.44 410.94L198.64 410.25L198.84 409.53L199.02 408.79L199.21 408.04L199.39 407.28L199.59 406.53L199.80 405.80L200.06 404.93L200.32 404.03L200.57 403.11L200.83 402.16L201.07 401.21L201.32 400.24L201.56 399.26L201.80 398.28L202.03 397.30L202.26 396.33L202.48 395.36L202.70 394.40L202.91 393.46L203.10 392.52L203.29 391.58L203.48 390.64L203.66 389.70L203.84 388.75L204.01 387.81L204.18 386.87L204.36 385.93L204.54 384.99L204.72 384.04L204.90 383.10L205.08 382.15L205.26 381.19L205.44 380.23L205.61 379.27L205.79 378.31L205.97 377.35L206.15 376.39L206.34 375.44L206.53 374.49L206.74 373.55L206.96 372.62L207.20 371.70L207.44 370.81L207.69 369.90L207.94 368.97L208.21 368.05L208.48 367.13L208.76 366.22L209.05 365.34L209.34 364.48L209.65 363.66L209.96 362.89L210.27 362.16L210.60 361.50L210.82 361.09L211.05 360.69L211.28 360.31L211.52 359.95L211.76 359.61L212.00 359.28L212.25 358.97L212.49 358.67L212.74 358.38L212.99 358.11L213.25 357.85L213.50 357.60L213.70 357.41L213.90 357.24L214.11 357.07L214.32 356.91L214.52 356.76L214.73 356.61L214.94 356.48L215.15 356.35L215.36 356.23L215.58 356.11L215.79 356.00L216.00 355.90L216.19 355.82L216.37 355.74L216.56 355.68L216.74 355.63L216.92 355.58L217.11 355.53L217.30 355.48L217.49 355.44L217.68 355.39L217.88 355.33L218.09 355.27L218.30 355.20L218.60 355.09L218.91 354.98L219.23 354.86L219.56 354.74L219.90 354.61L220.24 354.47L220.59 354.33L220.93 354.19L221.28 354.04L221.63 353.90L221.97 353.75L222.30 353.60L222.64 353.45L222.98 353.30L223.32 353.15L223.67 353.01L224.01 352.85L224.35 352.70L224.69 352.54L225.03 352.37L225.36 352.19L225.68 352.01L225.99 351.81L226.30 351.60L226.61 351.37L226.91 351.14L227.20 350.89L227.49 350.63L227.77 350.37L228.05 350.09L228.33 349.81L228.59 349.52L228.85 349.23L229.11 348.93L229.36 348.62L229.60 348.30L229.85 347.95L230.10 347.59L230.33 347.22L230.56 346.84L230.78 346.45L231.00 346.05L231.21 345.65L231.42 345.24L231.62 344.84L231.82 344.42L232.01 344.01L232.20 343.60L232.39 343.18L232.58 342.75L232.76 342.33L232.93 341.90L233.10 341.46L233.27 341.03L233.43 340.58L233.59 340.14L233.75 339.69L233.90 339.23L234.05 338.77L234.20 338.30L234.36 337.77L234.52 337.24L234.67 336.70L234.82 336.15L234.97 335.60L235.11 335.04L235.25 334.47L235.39 333.90L235.52 333.33L235.65 332.75L235.78 332.18L235.90 331.60L236.03 330.99L236.15 330.37L236.27 329.76L236.38 329.14L236.49 328.52L236.60 327.89L236.71 327.26L236.81 326.62L236.91 325.97L237.01 325.32L237.10 324.67L237.20 324.00L237.30 323.24L237.41 322.46L237.50 321.67L237.60 320.86L237.69 320.05L237.78 319.23L237.86 318.41L237.95 317.60L238.04 316.80L238.12 316.01L238.21 315.24L238.30 314.50L238.38 313.87L238.46 313.24L238.53 312.62L238.61 312.00L238.69 311.39L238.77 310.79L238.84 310.20L238.92 309.62L238.99 309.06L239.06 308.52L239.13 308.00L239.20 307.50L239.25 307.14L239.29 306.75L239.33 306.35L239.38 305.94L239.42 305.55L239.46 305.17L239.50 304.83L239.54 304.52L239.58 304.26L239.62 304.07L239.66 303.94L239.70 303.90L239.78 304.07L239.85 304.55L239.92 305.30L239.99 306.28L240.06 307.46L240.13 308.78L240.20 310.22L240.26 311.73L240.32 313.27L240.38 314.81L240.44 316.30L240.50 317.70L240.58 319.67L240.65 321.76L240.72 323.95L240.78 326.22L240.84 328.56L240.90 330.95L240.96 333.37L241.01 335.81L241.06 338.25L241.11 340.67L241.15 343.06L241.20 345.40L241.24 347.71L241.29 350.02L241.32 352.33L241.36 354.65L241.39 356.96L241.42 359.28L241.46 361.59L241.48 363.90L241.51 366.20L241.54 368.51L241.57 370.81L241.60 373.10L241.63 375.32L241.65 377.49L241.68 379.62L241.70 381.73L241.72 383.84L241.75 385.96L241.77 388.12L241.79 390.32L241.82 392.60L241.84 394.96L241.87 397.42L241.90 400.00L241.95 404.02L242.00 408.40L242.06 413.05L242.12 417.91L242.18 422.92L242.24 427.99L242.30 433.07L242.37 438.09L242.43 442.97L242.49 447.64L242.55 452.04L242.60 456.10L242.63 458.93L242.66 461.94L242.68 465.03L242.70 468.14L242.72 471.18L242.74 474.08L242.77 476.74L242.80 479.11L242.83 481.08L242.88 482.59L242.93 483.56L243.00 483.90L243.06 483.72L243.12 483.21L243.19 482.42L243.27 481.38L243.35 480.14L243.43 478.74L243.51 477.22L243.60 475.63L243.68 474.01L243.76 472.40L243.83 470.85L243.90 469.40L243.98 467.46L244.06 465.40L244.12 463.24L244.18 461.01L244.24 458.72L244.30 456.40L244.36 454.07L244.43 451.74L244.50 449.44L244.59 447.18L244.69 445.00L244.80 442.90L244.91 441.14L245.02 439.40L245.13 437.67L245.25 435.97L245.37 434.29L245.50 432.62L245.64 430.98L245.79 429.36L245.95 427.76L246.12 426.19L246.30 424.63L246.50 423.10L246.68 421.79L246.85 420.50L247.03 419.22L247.22 417.96L247.41 416.71L247.61 415.48L247.83 414.27L248.06 413.08L248.31 411.90L248.58 410.75L248.88 409.61L249.20 408.50L249.50 407.53L249.82 406.57L250.15 405.63L250.50 404.70L250.86 403.78L251.24 402.88L251.63 401.99L252.03 401.13L252.45 400.29L252.89 399.47L253.34 398.67L253.80 397.90L254.22 397.24L254.65 396.60L255.10 395.97L255.55 395.36L256.02 394.77L256.50 394.19L256.99 393.63L257.49 393.09L258.00 392.56L258.52 392.06L259.06 391.57L259.60 391.10L260.13 390.67L260.66 390.26L261.20 389.86L261.75 389.48L262.30 389.12L262.87 388.77L263.46 388.44L264.05 388.12L264.66 387.82L265.29 387.53L265.94 387.26L266.60 387.00L267.41 386.72L268.25 386.47L269.12 386.25L270.02 386.05L270.93 385.88L271.87 385.72L272.81 385.57L273.77 385.44L274.73 385.30L275.69 385.17L276.65 385.04L277.60 384.90L278.60 384.75L279.62 384.62L280.64 384.49L281.67 384.37L282.71 384.26L283.75 384.15L284.79 384.04L285.84 383.94L286.88 383.83L287.92 383.72L288.96 383.61L290.00 383.50" fill="none" stroke="#f00" stroke-width="2" stroke-linejoin="round"/>
<path d="M203.30 393.00L204.60 386.50" stroke="#000" stroke-width="1.9"/>
<path d="M206.30 379.00L207.40 373.00" stroke="#000" stroke-width="1.9"/>
<path d="M209.00 367.50L211.50 365.30" stroke="#000" stroke-width="1.9"/>
<path d="M213.80 363.50L217.80 361.00" stroke="#000" stroke-width="1.9"/>
<circle cx="190.8" cy="408.0" r="3.75" fill="#000"/>
<circle cx="193.6" cy="408.6" r="3.75" fill="#000"/>
<circle cx="197.0" cy="409.7" r="3.75" fill="#000"/>
<circle cx="199.8" cy="406.9" r="3.75" fill="#000"/>
<circle cx="202.1" cy="402.4" r="3.75" fill="#000"/>
<circle cx="203.2" cy="393.1" r="3.75" fill="#000"/>
<circle cx="205.2" cy="378.5" r="3.75" fill="#000"/>
<circle cx="207.2" cy="369.5" r="3.75" fill="#000"/>
<circle cx="208.9" cy="362.7" r="3.75" fill="#000"/>
<circle cx="210.6" cy="358.7" r="3.75" fill="#000"/>
<circle cx="213.4" cy="350.8" r="3.75" fill="#000"/>
<circle cx="216.3" cy="349.1" r="3.75" fill="#000"/>
<circle cx="218.5" cy="351.3" r="3.75" fill="#000"/>
</g>
<rect x="34.50" y="274.50" width="256.00" height="218.00" fill="none" stroke="#2a2a2a" stroke-width="1"/>
<path d="M55.50 492.50V490.30M55.50 274.50V276.70M77.50 492.50V488.50M77.50 274.50V278.50M98.50 492.50V490.30M98.50 274.50V276.70M119.50 492.50V488.50M119.50 274.50V278.50M141.50 492.50V490.30M141.50 274.50V276.70M162.50 492.50V488.50M162.50 274.50V278.50M183.50 492.50V490.30M183.50 274.50V276.70M205.50 492.50V488.50M205.50 274.50V278.50M226.50 492.50V490.30M226.50 274.50V276.70M247.50 492.50V488.50M247.50 274.50V278.50M269.50 492.50V490.30M269.50 274.50V276.70M34.50 301.50H36.70M290.50 301.50H288.30M34.50 329.50H38.50M290.50 329.50H286.50M34.50 356.50H36.70M290.50 356.50H288.30M34.50 383.50H38.50M290.50 383.50H286.50M34.50 410.50H36.70M290.50 410.50H288.30M34.50 438.50H38.50M290.50 438.50H286.50M34.50 465.50H36.70M290.50 465.50H288.30" stroke="#2a2a2a" stroke-width="1" fill="none"/>
<text x="34.35" y="503.30" font-size="8.4" text-anchor="middle" letter-spacing="-0.2">0</text>
<text x="77.02" y="503.30" font-size="8.4" text-anchor="middle" letter-spacing="-0.2">30</text>
<text x="119.68" y="503.30" font-size="8.4" text-anchor="middle" letter-spacing="-0.2">60</text>
<text x="162.35" y="503.30" font-size="8.4" text-anchor="middle" letter-spacing="-0.2">90</text>
<text x="205.02" y="503.30" font-size="8.4" text-anchor="middle" letter-spacing="-0.2">120</text>
<text x="247.68" y="503.30" font-size="8.4" text-anchor="middle" letter-spacing="-0.2">150</text>
<text x="290.35" y="503.30" font-size="8.4" text-anchor="middle" letter-spacing="-0.2">180</text>
<text x="30.60" y="276.40" font-size="8.4" text-anchor="end" letter-spacing="-0.2">1.0</text>
<text x="30.60" y="330.90" font-size="8.4" text-anchor="end" letter-spacing="-0.2">0.5</text>
<text x="30.60" y="385.40" font-size="8.4" text-anchor="end" letter-spacing="-0.2">0.0</text>
<text x="30.60" y="439.90" font-size="8.4" text-anchor="end" letter-spacing="-0.2">-0.5</text>
<text x="30.60" y="494.40" font-size="8.4" text-anchor="end" letter-spacing="-0.2">-1.0</text>
<text x="38.20" y="289.30" font-size="10.65">(c) E<tspan font-size="7.46" dy="4.05" class="n">i</tspan><tspan dy="-4.05">=260.0 eV; (e</tspan><tspan font-size="6.39" dy="-5.86">-</tspan><tspan dy="5.86">, Hg)</tspan></text>
<clipPath id="cd"><rect x="326.50" y="273.50" width="256.00" height="220.00"/></clipPath>
<g clip-path="url(#cd)">
<path d="M326.60 383.50L328.08 383.41L329.55 383.31L331.03 383.22L332.51 383.12L333.98 383.02L335.46 382.93L336.94 382.83L338.41 382.74L339.89 382.65L341.36 382.56L342.83 382.48L344.30 382.40L345.79 382.32L347.36 382.23L348.98 382.13L350.62 382.04L352.26 381.94L353.87 381.86L355.43 381.78L356.92 381.72L358.30 381.68L359.56 381.66L360.67 381.66L361.60 381.70L361.93 381.72L362.23 381.74L362.51 381.77L362.76 381.79L363.00 381.82L363.23 381.85L363.44 381.89L363.65 381.93L363.86 381.98L364.07 382.05L364.28 382.12L364.50 382.20L364.73 382.29L364.95 382.39L365.17 382.49L365.39 382.60L365.60 382.72L365.82 382.85L366.03 382.99L366.24 383.14L366.45 383.31L366.66 383.49L366.88 383.68L367.10 383.90L367.48 384.31L367.86 384.77L368.26 385.29L368.66 385.84L369.06 386.44L369.46 387.07L369.86 387.73L370.25 388.41L370.63 389.10L371.01 389.80L371.36 390.50L371.70 391.20L372.07 392.04L372.43 392.94L372.77 393.89L373.10 394.87L373.41 395.87L373.72 396.88L374.02 397.87L374.30 398.84L374.58 399.78L374.86 400.66L375.13 401.47L375.40 402.20L375.56 402.63L375.71 403.08L375.86 403.53L376.00 403.97L376.14 404.40L376.28 404.81L376.41 405.18L376.56 405.51L376.71 405.79L376.86 406.00L377.02 406.14L377.20 406.20L377.39 406.17L377.60 406.04L377.81 405.83L378.02 405.56L378.25 405.22L378.48 404.84L378.71 404.42L378.94 403.98L379.18 403.53L379.42 403.07L379.66 402.63L379.90 402.20L380.25 401.57L380.59 400.88L380.93 400.14L381.28 399.36L381.63 398.55L381.98 397.73L382.35 396.90L382.74 396.07L383.14 395.26L383.57 394.47L384.02 393.71L384.50 393.00L385.01 392.32L385.53 391.64L386.07 390.97L386.63 390.32L387.21 389.67L387.80 389.05L388.42 388.44L389.06 387.85L389.71 387.28L390.39 386.73L391.08 386.20L391.80 385.70L392.60 385.20L393.44 384.74L394.32 384.31L395.22 383.91L396.15 383.54L397.09 383.18L398.05 382.84L399.01 382.50L399.97 382.16L400.93 381.82L401.87 381.47L402.80 381.10L403.72 380.73L404.65 380.36L405.58 380.00L406.52 379.64L407.45 379.29L408.39 378.93L409.32 378.57L410.24 378.20L411.15 377.82L412.05 377.43L412.93 377.02L413.80 376.60L414.62 376.19L415.44 375.76L416.26 375.32L417.08 374.88L417.90 374.43L418.69 373.96L419.47 373.50L420.23 373.02L420.95 372.55L421.64 372.07L422.29 371.58L422.90 371.10L423.33 370.73L423.73 370.34L424.11 369.95L424.48 369.56L424.82 369.16L425.15 368.77L425.47 368.37L425.78 367.98L426.09 367.59L426.39 367.22L426.69 366.85L427.00 366.50L427.25 366.20L427.51 365.89L427.76 365.56L428.00 365.22L428.25 364.90L428.49 364.58L428.72 364.28L428.95 364.02L429.17 363.79L429.39 363.60L429.60 363.47L429.80 363.40L429.91 363.39L430.02 363.39L430.13 363.41L430.24 363.44L430.34 363.48L430.45 363.54L430.55 363.60L430.64 363.67L430.74 363.74L430.83 363.83L430.92 363.91L431.00 364.00L431.10 364.12L431.20 364.26L431.29 364.40L431.37 364.55L431.44 364.72L431.51 364.89L431.58 365.09L431.64 365.29L431.70 365.52L431.77 365.76L431.83 366.02L431.90 366.30L432.09 367.22L432.28 368.35L432.45 369.67L432.62 371.13L432.79 372.73L432.95 374.43L433.10 376.20L433.25 378.01L433.40 379.85L433.53 381.68L433.67 383.47L433.80 385.20L433.94 387.16L434.07 389.16L434.18 391.18L434.29 393.23L434.39 395.30L434.49 397.40L434.58 399.52L434.67 401.66L434.77 403.82L434.87 406.00L434.98 408.19L435.10 410.40L435.24 412.95L435.39 415.63L435.54 418.40L435.69 421.23L435.85 424.08L436.01 426.92L436.18 429.72L436.34 432.44L436.51 435.06L436.67 437.53L436.84 439.82L437.00 441.90L437.09 443.11L437.18 444.37L437.27 445.65L437.35 446.92L437.44 448.14L437.52 449.30L437.61 450.36L437.71 451.30L437.82 452.08L437.93 452.68L438.06 453.06L438.20 453.20L438.33 453.12L438.46 452.86L438.61 452.46L438.76 451.94L438.91 451.30L439.07 450.58L439.24 449.79L439.41 448.96L439.58 448.10L439.75 447.24L439.92 446.40L440.10 445.60L440.37 444.32L440.65 442.91L440.92 441.40L441.21 439.80L441.49 438.15L441.79 436.47L442.10 434.77L442.42 433.07L442.76 431.41L443.12 429.79L443.50 428.25L443.90 426.80L444.25 425.63L444.59 424.47L444.94 423.33L445.30 422.20L445.67 421.09L446.05 420.01L446.45 418.95L446.88 417.93L447.33 416.94L447.82 415.98L448.34 415.07L448.90 414.20L449.42 413.47L449.97 412.75L450.54 412.06L451.14 411.39L451.76 410.74L452.39 410.13L453.04 409.54L453.71 408.99L454.39 408.48L455.09 408.01L455.79 407.58L456.50 407.20L457.17 406.89L457.86 406.61L458.57 406.37L459.29 406.16L460.02 405.99L460.76 405.85L461.51 405.74L462.27 405.65L463.03 405.60L463.79 405.57L464.54 405.57L465.30 405.60L466.13 405.67L466.98 405.78L467.85 405.94L468.73 406.14L469.61 406.38L470.49 406.64L471.36 406.92L472.22 407.22L473.06 407.54L473.87 407.86L474.65 408.18L475.40 408.50L476.00 408.78L476.57 409.08L477.12 409.40L477.66 409.74L478.19 410.08L478.70 410.43L479.21 410.77L479.71 411.11L480.20 411.44L480.70 411.75L481.20 412.04L481.70 412.30L482.13 412.52L482.56 412.74L483.00 412.98L483.43 413.21L483.86 413.43L484.28 413.63L484.70 413.82L485.12 413.97L485.52 414.10L485.92 414.18L486.32 414.22L486.70 414.20L487.05 414.14L487.40 414.05L487.75 413.92L488.09 413.77L488.43 413.58L488.76 413.37L489.08 413.13L489.39 412.86L489.69 412.58L489.97 412.27L490.25 411.94L490.50 411.60L490.85 411.03L491.15 410.39L491.42 409.68L491.66 408.91L491.88 408.09L492.07 407.22L492.24 406.32L492.40 405.40L492.56 404.46L492.70 403.50L492.85 402.55L493.00 401.60L493.18 400.36L493.33 399.05L493.46 397.67L493.57 396.25L493.66 394.79L493.74 393.33L493.82 391.86L493.90 390.42L493.98 389.02L494.07 387.67L494.18 386.39L494.30 385.20L494.40 384.40L494.50 383.66L494.60 382.96L494.71 382.28L494.82 381.63L494.93 380.99L495.04 380.34L495.16 379.68L495.27 379.00L495.38 378.28L495.49 377.52L495.60 376.70L495.76 375.38L495.92 373.95L496.09 372.43L496.25 370.85L496.42 369.21L496.58 367.54L496.74 365.85L496.90 364.16L497.05 362.50L497.21 360.87L497.36 359.30L497.50 357.80L497.61 356.54L497.71 355.26L497.79 353.97L497.87 352.68L497.95 351.41L498.03 350.17L498.11 348.96L498.21 347.80L498.32 346.71L498.45 345.68L498.61 344.74L498.80 343.90L498.91 343.47L499.03 343.07L499.14 342.68L499.26 342.32L499.39 341.97L499.52 341.64L499.65 341.33L499.80 341.03L499.96 340.75L500.12 340.49L500.31 340.24L500.50 340.00L500.67 339.81L500.86 339.62L501.05 339.43L501.25 339.24L501.46 339.07L501.67 338.91L501.89 338.78L502.11 338.66L502.34 338.57L502.56 338.51L502.78 338.49L503.00 338.50L503.32 338.60L503.65 338.80L503.98 339.09L504.32 339.44L504.66 339.85L505.01 340.29L505.35 340.77L505.69 341.25L506.03 341.73L506.36 342.19L506.69 342.62L507.00 343.00L507.26 343.32L507.52 343.64L507.77 343.98L508.01 344.31L508.24 344.64L508.48 344.97L508.72 345.28L508.96 345.57L509.21 345.85L509.46 346.10L509.73 346.32L510.00 346.50L510.23 346.62L510.46 346.71L510.70 346.78L510.94 346.83L511.19 346.87L511.43 346.89L511.68 346.92L511.94 346.94L512.20 346.96L512.46 346.99L512.73 347.04L513.00 347.10L513.35 347.21L513.72 347.36L514.10 347.53L514.48 347.71L514.88 347.90L515.27 348.09L515.67 348.27L516.07 348.42L516.46 348.54L516.85 348.61L517.23 348.64L517.60 348.60L518.00 348.49L518.40 348.33L518.79 348.12L519.18 347.86L519.56 347.56L519.95 347.23L520.32 346.87L520.69 346.48L521.05 346.07L521.41 345.66L521.76 345.23L522.10 344.80L522.54 344.20L522.96 343.54L523.38 342.83L523.78 342.07L524.18 341.28L524.56 340.47L524.93 339.64L525.29 338.82L525.64 338.00L525.97 337.20L526.29 336.43L526.60 335.70L526.85 335.10L527.08 334.50L527.30 333.90L527.51 333.31L527.71 332.72L527.91 332.13L528.09 331.56L528.28 331.01L528.46 330.47L528.64 329.96L528.82 329.46L529.00 329.00L529.13 328.68L529.25 328.34L529.37 327.99L529.49 327.63L529.61 327.29L529.73 326.97L529.85 326.67L529.96 326.41L530.08 326.19L530.19 326.03L530.29 325.93L530.40 325.90L530.55 325.99L530.69 326.21L530.83 326.55L530.97 327.00L531.10 327.54L531.23 328.16L531.35 328.84L531.47 329.57L531.58 330.34L531.69 331.12L531.80 331.92L531.90 332.70L532.09 334.45L532.24 336.44L532.37 338.65L532.47 341.03L532.55 343.57L532.62 346.23L532.68 348.98L532.74 351.78L532.79 354.60L532.85 357.42L532.92 360.19L533.00 362.90L533.10 365.96L533.21 369.18L533.33 372.49L533.44 375.88L533.56 379.30L533.67 382.71L533.78 386.07L533.88 389.34L533.98 392.49L534.06 395.47L534.14 398.26L534.20 400.80L534.23 402.24L534.25 403.59L534.27 404.87L534.28 406.09L534.28 407.27L534.29 408.41L534.30 409.52L534.31 410.63L534.32 411.74L534.34 412.86L534.36 414.01L534.40 415.20L534.45 416.46L534.50 417.73L534.56 419.03L534.62 420.33L534.69 421.63L534.76 422.93L534.83 424.22L534.91 425.49L534.98 426.74L535.06 427.96L535.13 429.15L535.20 430.30L535.25 431.26L535.31 432.30L535.35 433.38L535.40 434.48L535.45 435.57L535.50 436.61L535.55 437.58L535.61 438.44L535.67 439.16L535.74 439.71L535.81 440.07L535.90 440.20L535.98 440.13L536.06 439.92L536.15 439.58L536.24 439.15L536.33 438.63L536.43 438.04L536.53 437.40L536.63 436.73L536.73 436.05L536.82 435.37L536.91 434.72L537.00 434.10L537.11 433.27L537.21 432.40L537.30 431.48L537.39 430.53L537.48 429.56L537.57 428.57L537.66 427.57L537.75 426.56L537.85 425.57L537.95 424.59L538.07 423.63L538.20 422.70L538.33 421.85L538.46 421.01L538.60 420.17L538.74 419.34L538.89 418.51L539.05 417.69L539.21 416.88L539.37 416.07L539.54 415.27L539.72 414.47L539.91 413.68L540.10 412.90L540.29 412.17L540.48 411.45L540.67 410.74L540.87 410.03L541.08 409.33L541.29 408.64L541.51 407.95L541.73 407.26L541.97 406.57L542.20 405.88L542.45 405.19L542.70 404.50L542.96 403.79L543.20 403.08L543.45 402.37L543.70 401.65L543.96 400.93L544.22 400.22L544.51 399.52L544.81 398.82L545.13 398.14L545.49 397.47L545.88 396.83L546.30 396.20L546.79 395.55L547.31 394.91L547.87 394.28L548.46 393.66L549.07 393.06L549.71 392.48L550.36 391.91L551.04 391.36L551.74 390.83L552.45 390.33L553.17 389.85L553.90 389.40L554.68 388.96L555.48 388.55L556.29 388.17L557.12 387.81L557.97 387.48L558.84 387.17L559.73 386.88L560.64 386.61L561.58 386.34L562.53 386.09L563.50 385.84L564.50 385.60L565.79 385.32L567.14 385.07L568.54 384.85L569.98 384.66L571.46 384.48L572.96 384.32L574.47 384.17L575.99 384.03L577.51 383.88L579.03 383.73L580.53 383.57L582.00 383.40" fill="none" stroke="#f00" stroke-width="2" stroke-linejoin="round"/>
<circle cx="482.4" cy="404.1" r="3.75" fill="#000"/>
<circle cx="485.6" cy="408.2" r="3.75" fill="#000"/>
<circle cx="488.7" cy="410.7" r="3.75" fill="#000"/>
<circle cx="491.9" cy="408.2" r="3.75" fill="#000"/>
<circle cx="493.1" cy="404.4" r="3.75" fill="#000"/>
<circle cx="493.7" cy="396.2" r="3.75" fill="#000"/>
<circle cx="495.6" cy="393.7" r="3.75" fill="#000"/>
<circle cx="496.9" cy="372.3" r="3.75" fill="#000"/>
<circle cx="498.2" cy="353.4" r="3.75" fill="#000"/>
<circle cx="499.4" cy="340.2" r="3.75" fill="#000"/>
<circle cx="501.9" cy="337.6" r="3.75" fill="#000"/>
<circle cx="503.8" cy="332.6" r="3.75" fill="#000"/>
<circle cx="505.1" cy="336.4" r="3.75" fill="#000"/>
<circle cx="508.9" cy="342.7" r="3.75" fill="#000"/>
<circle cx="511.0" cy="348.0" r="3.75" fill="#000"/>
</g>
<rect x="326.50" y="274.50" width="256.00" height="218.00" fill="none" stroke="#2a2a2a" stroke-width="1"/>
<path d="M347.50 492.50V490.30M347.50 274.50V276.70M369.50 492.50V488.50M369.50 274.50V278.50M390.50 492.50V490.30M390.50 274.50V276.70M411.50 492.50V488.50M411.50 274.50V278.50M433.50 492.50V490.30M433.50 274.50V276.70M454.50 492.50V488.50M454.50 274.50V278.50M475.50 492.50V490.30M475.50 274.50V276.70M497.50 492.50V488.50M497.50 274.50V278.50M518.50 492.50V490.30M518.50 274.50V276.70M539.50 492.50V488.50M539.50 274.50V278.50M561.50 492.50V490.30M561.50 274.50V276.70M326.50 301.50H328.70M582.50 301.50H580.30M326.50 329.50H330.50M582.50 329.50H578.50M326.50 356.50H328.70M582.50 356.50H580.30M326.50 383.50H330.50M582.50 383.50H578.50M326.50 410.50H328.70M582.50 410.50H580.30M326.50 438.50H330.50M582.50 438.50H578.50M326.50 465.50H328.70M582.50 465.50H580.30" stroke="#2a2a2a" stroke-width="1" fill="none"/>
<text x="326.35" y="503.30" font-size="8.4" text-anchor="middle" letter-spacing="-0.2">0</text>
<text x="369.02" y="503.30" font-size="8.4" text-anchor="middle" letter-spacing="-0.2">30</text>
<text x="411.68" y="503.30" font-size="8.4" text-anchor="middle" letter-spacing="-0.2">60</text>
<text x="454.35" y="503.30" font-size="8.4" text-anchor="middle" letter-spacing="-0.2">90</text>
<text x="497.02" y="503.30" font-size="8.4" text-anchor="middle" letter-spacing="-0.2">120</text>
<text x="539.68" y="503.30" font-size="8.4" text-anchor="middle" letter-spacing="-0.2">150</text>
<text x="582.35" y="503.30" font-size="8.4" text-anchor="middle" letter-spacing="-0.2">180</text>
<text x="322.60" y="276.40" font-size="8.4" text-anchor="end" letter-spacing="-0.2">1.0</text>
<text x="322.60" y="330.90" font-size="8.4" text-anchor="end" letter-spacing="-0.2">0.5</text>
<text x="322.60" y="385.40" font-size="8.4" text-anchor="end" letter-spacing="-0.2">0.0</text>
<text x="322.60" y="439.90" font-size="8.4" text-anchor="end" letter-spacing="-0.2">-0.5</text>
<text x="322.60" y="494.40" font-size="8.4" text-anchor="end" letter-spacing="-0.2">-1.0</text>
<text x="331.50" y="288.80" font-size="10.75">(d) E<tspan font-size="7.52" dy="4.08" class="n">i</tspan><tspan dy="-4.08">=280.0 eV; (e</tspan><tspan font-size="6.45" dy="-5.91">-</tspan><tspan dy="5.91">, Hg)</tspan></text>
<clipPath id="ce"><rect x="34.50" y="543.50" width="256.00" height="220.00"/></clipPath>
<g clip-path="url(#ce)">
<path d="M34.70 653.50L36.02 653.45L37.35 653.40L38.67 653.36L39.99 653.31L41.31 653.26L42.63 653.22L43.95 653.17L45.28 653.12L46.60 653.07L47.93 653.02L49.26 652.96L50.60 652.90L52.02 652.83L53.51 652.73L55.05 652.63L56.62 652.51L58.20 652.39L59.75 652.28L61.25 652.18L62.68 652.09L64.02 652.02L65.23 651.98L66.30 651.97L67.20 652.00L67.52 652.02L67.81 652.05L68.08 652.07L68.33 652.11L68.56 652.14L68.78 652.18L68.98 652.22L69.19 652.27L69.39 652.32L69.59 652.38L69.79 652.44L70.00 652.50L70.19 652.56L70.38 652.62L70.57 652.67L70.75 652.73L70.92 652.79L71.10 652.86L71.27 652.93L71.45 653.02L71.63 653.12L71.82 653.23L72.00 653.35L72.20 653.50L72.58 653.82L72.97 654.20L73.39 654.64L73.81 655.12L74.25 655.64L74.69 656.20L75.13 656.78L75.57 657.38L76.00 657.99L76.42 658.60L76.82 659.21L77.20 659.80L77.59 660.45L77.96 661.14L78.33 661.85L78.68 662.59L79.03 663.34L79.36 664.09L79.69 664.84L80.02 665.56L80.34 666.26L80.66 666.92L80.98 667.54L81.30 668.10L81.51 668.47L81.72 668.85L81.93 669.23L82.13 669.61L82.33 669.98L82.53 670.33L82.74 670.65L82.94 670.93L83.15 671.16L83.36 671.34L83.58 671.46L83.80 671.50L84.06 671.45L84.33 671.31L84.60 671.08L84.88 670.79L85.16 670.43L85.44 670.02L85.73 669.58L86.02 669.12L86.31 668.65L86.61 668.18L86.90 667.73L87.20 667.30L87.58 666.75L87.95 666.15L88.31 665.53L88.68 664.87L89.05 664.20L89.42 663.53L89.81 662.85L90.22 662.19L90.65 661.54L91.10 660.92L91.58 660.34L92.10 659.80L92.67 659.29L93.27 658.81L93.90 658.36L94.56 657.93L95.24 657.52L95.94 657.13L96.65 656.76L97.38 656.39L98.12 656.02L98.88 655.65L99.64 655.28L100.40 654.90L101.30 654.46L102.23 654.03L103.19 653.61L104.17 653.20L105.17 652.79L106.18 652.38L107.19 651.98L108.20 651.57L109.20 651.16L110.19 650.75L111.16 650.33L112.10 649.90L112.98 649.49L113.87 649.06L114.78 648.61L115.69 648.16L116.59 647.71L117.47 647.26L118.34 646.82L119.17 646.39L119.96 645.98L120.70 645.59L121.38 645.23L122.00 644.90L122.31 644.74L122.60 644.59L122.87 644.47L123.12 644.35L123.36 644.24L123.59 644.13L123.82 644.01L124.04 643.89L124.27 643.75L124.50 643.59L124.74 643.41L125.00 643.20L125.43 642.81L125.89 642.35L126.35 641.84L126.83 641.28L127.32 640.69L127.80 640.08L128.29 639.44L128.76 638.80L129.22 638.15L129.67 637.51L130.10 636.89L130.50 636.30L130.84 635.77L131.17 635.23L131.49 634.68L131.80 634.13L132.10 633.58L132.39 633.03L132.67 632.49L132.94 631.96L133.21 631.44L133.48 630.94L133.74 630.46L134.00 630.00L134.19 629.66L134.37 629.30L134.55 628.93L134.73 628.56L134.90 628.19L135.07 627.85L135.24 627.52L135.41 627.24L135.58 626.99L135.75 626.80L135.92 626.66L136.10 626.60L136.23 626.60L136.37 626.62L136.51 626.67L136.65 626.75L136.80 626.85L136.94 626.97L137.08 627.11L137.21 627.26L137.35 627.43L137.47 627.61L137.59 627.80L137.70 628.00L137.91 628.48L138.08 629.05L138.22 629.70L138.33 630.42L138.43 631.21L138.51 632.05L138.57 632.93L138.63 633.85L138.69 634.80L138.75 635.76L138.82 636.73L138.90 637.70L139.03 639.16L139.15 640.71L139.27 642.35L139.38 644.05L139.49 645.81L139.60 647.61L139.70 649.43L139.80 651.27L139.90 653.11L140.00 654.94L140.10 656.74L140.20 658.50L140.30 660.23L140.40 661.97L140.49 663.70L140.59 665.43L140.68 667.17L140.77 668.90L140.86 670.64L140.95 672.37L141.04 674.10L141.12 675.84L141.21 677.57L141.30 679.30L141.39 681.05L141.47 682.85L141.55 684.68L141.62 686.52L141.70 688.36L141.78 690.19L141.86 691.98L141.94 693.73L142.02 695.43L142.11 697.04L142.20 698.57L142.30 700.00L142.37 700.89L142.43 701.76L142.50 702.61L142.56 703.43L142.63 704.23L142.70 705.00L142.77 705.74L142.85 706.45L142.93 707.14L143.01 707.79L143.10 708.41L143.20 709.00L143.26 709.37L143.33 709.76L143.40 710.16L143.47 710.55L143.54 710.93L143.61 711.29L143.68 711.62L143.76 711.91L143.84 712.15L143.92 712.34L144.01 712.46L144.10 712.50L144.22 712.44L144.34 712.25L144.48 711.95L144.61 711.56L144.75 711.09L144.90 710.57L145.05 709.99L145.20 709.39L145.35 708.77L145.50 708.16L145.65 707.56L145.80 707.00L146.01 706.21L146.21 705.37L146.42 704.50L146.62 703.58L146.83 702.64L147.04 701.68L147.26 700.71L147.48 699.73L147.72 698.75L147.96 697.78L148.22 696.83L148.50 695.90L148.79 694.96L149.09 694.00L149.39 693.03L149.71 692.06L150.03 691.09L150.36 690.13L150.71 689.18L151.07 688.25L151.45 687.34L151.85 686.45L152.26 685.61L152.70 684.80L153.09 684.13L153.49 683.47L153.89 682.84L154.31 682.21L154.74 681.61L155.18 681.02L155.64 680.45L156.11 679.90L156.60 679.37L157.11 678.86L157.65 678.37L158.20 677.90L158.80 677.43L159.44 676.99L160.11 676.56L160.81 676.15L161.52 675.76L162.25 675.39L162.99 675.04L163.73 674.72L164.46 674.42L165.19 674.15L165.91 673.91L166.60 673.70L167.19 673.54L167.77 673.40L168.35 673.29L168.92 673.19L169.50 673.11L170.07 673.05L170.64 673.01L171.21 672.98L171.79 672.97L172.36 672.97L172.93 672.98L173.50 673.00L174.08 673.04L174.66 673.09L175.24 673.17L175.82 673.26L176.39 673.36L176.97 673.48L177.55 673.61L178.13 673.75L178.70 673.90L179.27 674.06L179.84 674.23L180.40 674.40L180.97 674.58L181.54 674.77L182.11 674.96L182.68 675.17L183.24 675.38L183.80 675.61L184.36 675.84L184.91 676.10L185.47 676.37L186.02 676.66L186.56 676.97L187.10 677.30L187.71 677.71L188.32 678.18L188.93 678.68L189.53 679.21L190.14 679.76L190.73 680.33L191.32 680.89L191.90 681.46L192.47 682.01L193.03 682.54L193.57 683.04L194.10 683.50L194.51 683.86L194.91 684.26L195.32 684.68L195.73 685.10L196.12 685.52L196.51 685.92L196.89 686.28L197.25 686.58L197.60 686.82L197.92 686.98L198.22 687.05L198.50 687.00L198.88 686.69L199.18 686.12L199.41 685.32L199.59 684.31L199.73 683.14L199.83 681.84L199.91 680.43L199.98 678.94L200.04 677.42L200.11 675.88L200.19 674.36L200.30 672.90L200.49 670.61L200.66 668.16L200.81 665.55L200.96 662.83L201.10 660.00L201.23 657.10L201.35 654.15L201.48 651.16L201.60 648.17L201.73 645.20L201.86 642.27L202.00 639.40L202.15 636.48L202.29 633.54L202.44 630.57L202.59 627.60L202.74 624.61L202.89 621.63L203.04 618.65L203.19 615.69L203.34 612.74L203.49 609.83L203.64 606.94L203.80 604.10L203.94 601.42L204.08 598.62L204.21 595.74L204.35 592.82L204.48 589.93L204.62 587.10L204.76 584.38L204.91 581.82L205.06 579.46L205.23 577.36L205.41 575.56L205.60 574.10L205.67 573.66L205.74 573.23L205.81 572.81L205.88 572.41L205.96 572.03L206.03 571.69L206.11 571.38L206.18 571.11L206.26 570.90L206.34 570.73L206.42 570.63L206.50 570.60L206.63 570.72L206.76 571.04L206.89 571.54L207.02 572.18L207.16 572.95L207.30 573.82L207.44 574.74L207.58 575.71L207.73 576.69L207.88 577.65L208.04 578.56L208.20 579.40L208.40 580.35L208.61 581.31L208.83 582.29L209.06 583.29L209.29 584.30L209.53 585.32L209.76 586.36L210.00 587.40L210.23 588.46L210.46 589.53L210.69 590.61L210.90 591.70L211.13 592.96L211.34 594.27L211.54 595.61L211.74 596.97L211.93 598.35L212.12 599.73L212.32 601.11L212.52 602.48L212.74 603.82L212.97 605.13L213.22 606.39L213.50 607.60L213.74 608.57L213.99 609.52L214.24 610.45L214.50 611.36L214.77 612.26L215.04 613.14L215.33 614.01L215.64 614.86L215.95 615.71L216.28 616.55L216.63 617.38L217.00 618.20L217.37 619.00L217.74 619.80L218.12 620.61L218.52 621.42L218.92 622.22L219.35 623.00L219.78 623.76L220.24 624.50L220.72 625.19L221.22 625.85L221.75 626.45L222.30 627.00L222.81 627.44L223.36 627.84L223.92 628.22L224.51 628.56L225.12 628.88L225.74 629.17L226.36 629.44L226.98 629.68L227.60 629.91L228.22 630.12L228.82 630.32L229.40 630.50L229.90 630.62L230.41 630.69L230.92 630.73L231.44 630.74L231.96 630.74L232.47 630.73L232.97 630.73L233.45 630.76L233.91 630.81L234.34 630.92L234.74 631.07L235.10 631.30L235.45 631.61L235.76 631.98L236.03 632.40L236.27 632.87L236.49 633.37L236.69 633.90L236.87 634.46L237.04 635.05L237.20 635.65L237.36 636.26L237.53 636.88L237.70 637.50L237.94 638.37L238.15 639.30L238.36 640.27L238.55 641.28L238.73 642.32L238.90 643.38L239.06 644.47L239.21 645.56L239.36 646.66L239.51 647.75L239.65 648.83L239.80 649.90L239.95 650.99L240.09 652.08L240.22 653.18L240.35 654.27L240.48 655.37L240.60 656.48L240.71 657.59L240.83 658.71L240.94 659.84L241.06 660.98L241.18 662.13L241.30 663.30L241.43 664.62L241.56 665.99L241.68 667.39L241.79 668.82L241.91 670.25L242.03 671.69L242.15 673.12L242.28 674.52L242.42 675.89L242.57 677.22L242.73 678.49L242.90 679.70L243.04 680.63L243.17 681.61L243.31 682.63L243.46 683.65L243.60 684.65L243.75 685.61L243.92 686.50L244.09 687.30L244.27 687.97L244.46 688.49L244.67 688.85L244.90 689.00L245.05 688.99L245.22 688.91L245.39 688.76L245.57 688.56L245.75 688.31L245.94 688.02L246.12 687.70L246.31 687.35L246.49 686.99L246.67 686.63L246.84 686.26L247.00 685.90L247.25 685.26L247.49 684.55L247.70 683.77L247.90 682.93L248.10 682.05L248.29 681.13L248.48 680.20L248.67 679.25L248.88 678.31L249.10 677.38L249.34 676.47L249.60 675.60L249.88 674.72L250.17 673.82L250.46 672.91L250.77 671.99L251.08 671.07L251.40 670.16L251.74 669.27L252.10 668.40L252.47 667.56L252.86 666.76L253.27 666.00L253.70 665.30L254.06 664.77L254.44 664.27L254.82 663.79L255.22 663.33L255.63 662.89L256.05 662.47L256.48 662.06L256.92 661.67L257.37 661.29L257.83 660.92L258.31 660.56L258.80 660.20L259.33 659.83L259.87 659.47L260.43 659.13L261.00 658.80L261.58 658.49L262.18 658.18L262.79 657.89L263.41 657.61L264.04 657.34L264.68 657.08L265.33 656.84L266.00 656.60L266.78 656.35L267.57 656.11L268.38 655.90L269.21 655.70L270.06 655.51L270.91 655.34L271.78 655.19L272.67 655.04L273.56 654.89L274.47 654.76L275.38 654.63L276.30 654.50L277.37 654.36L278.46 654.25L279.58 654.14L280.71 654.06L281.86 653.98L283.02 653.91L284.19 653.84L285.36 653.78L286.53 653.71L287.69 653.65L288.85 653.58L290.00 653.50" fill="none" stroke="#f00" stroke-width="2" stroke-linejoin="round"/>
<path d="M34.70 653.70L37.48 653.58L40.41 653.43L43.44 653.25L46.51 653.06L49.59 652.88L52.62 652.70L55.55 652.55L58.33 652.43L60.91 652.35L63.25 652.33L65.30 652.38L67.00 652.50L67.58 652.56L68.10 652.62L68.59 652.68L69.03 652.74L69.45 652.80L69.84 652.88L70.21 652.97L70.57 653.08L70.92 653.22L71.27 653.38L71.63 653.57L72.00 653.80L72.47 654.13L72.92 654.52L73.37 654.96L73.81 655.44L74.24 655.96L74.66 656.50L75.07 657.07L75.47 657.65L75.87 658.24L76.25 658.83L76.63 659.42L77.00 660.00L77.38 660.63L77.74 661.29L78.09 661.97L78.43 662.68L78.76 663.39L79.08 664.11L79.39 664.82L79.71 665.52L80.03 666.20L80.34 666.84L80.67 667.44L81.00 668.00L81.25 668.40L81.50 668.83L81.75 669.26L82.00 669.69L82.25 670.10L82.50 670.50L82.76 670.86L83.01 671.17L83.26 671.44L83.51 671.64L83.75 671.76L84.00 671.80L84.25 671.74L84.50 671.58L84.74 671.35L84.98 671.04L85.22 670.67L85.46 670.25L85.71 669.81L85.95 669.34L86.20 668.86L86.46 668.39L86.73 667.93L87.00 667.50L87.37 666.94L87.73 666.34L88.10 665.71L88.47 665.06L88.86 664.39L89.25 663.72L89.66 663.05L90.08 662.39L90.53 661.74L90.99 661.12L91.48 660.54L92.00 660.00L92.56 659.49L93.14 659.00L93.75 658.54L94.37 658.11L95.02 657.69L95.69 657.29L96.37 656.90L97.07 656.52L97.79 656.14L98.51 655.76L99.25 655.38L100.00 655.00L100.91 654.55L101.85 654.12L102.83 653.69L103.84 653.28L104.86 652.87L105.90 652.47L106.95 652.06L107.99 651.66L109.02 651.26L110.04 650.85L111.04 650.43L112.00 650.00L112.88 649.61L113.75 649.22L114.62 648.85L115.48 648.48L116.33 648.10L117.18 647.72L118.01 647.32L118.84 646.91L119.65 646.48L120.45 646.02L121.23 645.53L122.00 645.00L122.78 644.42L123.56 643.80L124.32 643.16L125.07 642.49L125.80 641.80L126.53 641.08L127.23 640.35L127.92 639.60L128.60 638.84L129.25 638.07L129.89 637.29L130.50 636.50L131.09 635.64L131.66 634.67L132.20 633.61L132.72 632.51L133.23 631.40L133.72 630.30L134.20 629.26L134.66 628.30L135.13 627.47L135.58 626.78L136.04 626.28L136.50 626.00L136.72 625.94L136.94 625.92L137.15 625.93L137.37 625.98L137.59 626.04L137.80 626.14L138.01 626.25L138.22 626.38L138.42 626.52L138.62 626.67L138.81 626.83L139.00 627.00L139.26 627.26L139.52 627.54L139.76 627.85L140.00 628.19L140.23 628.56L140.45 628.95L140.66 629.38L140.87 629.84L141.06 630.33L141.25 630.85L141.43 631.41L141.60 632.00L141.92 633.46L142.17 635.18L142.36 637.12L142.49 639.25L142.59 641.52L142.66 643.91L142.70 646.37L142.74 648.87L142.78 651.37L142.83 653.84L142.90 656.22L143.00 658.50L143.12 660.70L143.24 662.90L143.36 665.10L143.48 667.29L143.60 669.48L143.72 671.68L143.84 673.88L143.97 676.08L144.09 678.30L144.23 680.52L144.36 682.75L144.50 685.00L144.64 687.55L144.77 690.40L144.89 693.47L145.02 696.65L145.14 699.83L145.27 702.93L145.42 705.83L145.58 708.43L145.77 710.64L145.98 712.36L146.22 713.48L146.50 713.90L146.64 713.84L146.80 713.64L146.96 713.31L147.12 712.88L147.29 712.36L147.47 711.77L147.64 711.15L147.82 710.49L148.00 709.83L148.17 709.18L148.34 708.56L148.50 708.00L148.68 707.39L148.85 706.77L149.02 706.15L149.19 705.52L149.35 704.89L149.51 704.24L149.68 703.58L149.85 702.90L150.02 702.21L150.21 701.49L150.40 700.76L150.60 700.00L150.89 698.88L151.18 697.68L151.48 696.40L151.78 695.08L152.10 693.72L152.43 692.34L152.77 690.97L153.13 689.62L153.51 688.31L153.92 687.06L154.34 685.88L154.80 684.80L155.17 684.02L155.54 683.25L155.92 682.51L156.31 681.79L156.72 681.10L157.13 680.43L157.56 679.78L158.01 679.17L158.48 678.58L158.96 678.02L159.47 677.49L160.00 677.00L160.51 676.58L161.04 676.18L161.59 675.81L162.16 675.46L162.74 675.14L163.34 674.84L163.95 674.57L164.56 674.31L165.17 674.08L165.79 673.87L166.40 673.67L167.00 673.50L167.57 673.36L168.15 673.24L168.73 673.14L169.31 673.06L169.89 673.00L170.48 672.96L171.07 672.93L171.66 672.92L172.25 672.92L172.83 672.94L173.42 672.96L174.00 673.00L174.59 673.05L175.17 673.12L175.76 673.20L176.35 673.30L176.93 673.41L177.52 673.54L178.10 673.67L178.68 673.82L179.27 673.98L179.85 674.15L180.42 674.32L181.00 674.50L181.60 674.69L182.19 674.88L182.80 675.09L183.40 675.29L184.00 675.51L184.59 675.74L185.19 675.99L185.77 676.25L186.35 676.53L186.91 676.83L187.46 677.15L188.00 677.50L188.55 677.90L189.09 678.35L189.61 678.83L190.12 679.34L190.62 679.87L191.12 680.41L191.60 680.95L192.09 681.50L192.56 682.03L193.04 682.55L193.52 683.04L194.00 683.50L194.42 683.90L194.85 684.35L195.28 684.82L195.72 685.30L196.15 685.78L196.58 686.23L196.99 686.64L197.40 686.99L197.78 687.27L198.15 687.46L198.49 687.54L198.80 687.50L199.22 687.19L199.57 686.60L199.86 685.77L200.10 684.74L200.30 683.53L200.47 682.19L200.62 680.73L200.75 679.20L200.87 677.63L201.00 676.05L201.14 674.50L201.30 673.00L201.55 670.73L201.77 668.30L201.97 665.73L202.16 663.05L202.33 660.28L202.50 657.44L202.65 654.54L202.80 651.61L202.95 648.67L203.09 645.74L203.24 642.84L203.40 640.00L203.56 637.04L203.72 634.04L203.88 631.01L204.03 627.95L204.18 624.88L204.33 621.82L204.48 618.76L204.62 615.72L204.77 612.72L204.91 609.76L205.05 606.85L205.20 604.00L205.32 601.46L205.43 598.82L205.53 596.12L205.62 593.41L205.72 590.72L205.81 588.10L205.92 585.58L206.04 583.21L206.17 581.03L206.32 579.07L206.50 577.38L206.70 576.00L206.78 575.56L206.87 575.13L206.96 574.71L207.05 574.31L207.14 573.93L207.24 573.58L207.33 573.27L207.43 573.01L207.52 572.79L207.62 572.63L207.71 572.53L207.80 572.50L207.95 572.65L208.09 573.04L208.23 573.64L208.36 574.42L208.50 575.35L208.63 576.39L208.77 577.50L208.90 578.65L209.04 579.81L209.19 580.95L209.34 582.02L209.50 583.00L209.69 584.03L209.88 585.08L210.07 586.13L210.28 587.20L210.48 588.27L210.69 589.36L210.91 590.45L211.12 591.55L211.34 592.65L211.56 593.76L211.78 594.88L212.00 596.00L212.23 597.22L212.46 598.48L212.68 599.75L212.90 601.05L213.13 602.34L213.36 603.64L213.60 604.93L213.85 606.21L214.11 607.46L214.39 608.68L214.68 609.86L215.00 611.00L215.28 611.92L215.57 612.83L215.87 613.72L216.17 614.59L216.49 615.45L216.81 616.29L217.15 617.12L217.49 617.92L217.85 618.72L218.22 619.49L218.60 620.25L219.00 621.00L219.36 621.66L219.73 622.32L220.11 622.97L220.50 623.61L220.89 624.24L221.30 624.85L221.71 625.45L222.14 626.02L222.58 626.56L223.04 627.08L223.51 627.56L224.00 628.00L224.45 628.36L224.91 628.70L225.39 629.01L225.88 629.30L226.38 629.56L226.89 629.81L227.40 630.04L227.92 630.26L228.44 630.46L228.96 630.65L229.48 630.83L230.00 631.00L230.50 631.14L231.02 631.26L231.56 631.35L232.10 631.42L232.64 631.48L233.18 631.53L233.71 631.58L234.23 631.63L234.72 631.70L235.18 631.77L235.61 631.87L236.00 632.00L236.23 632.09L236.45 632.17L236.65 632.25L236.84 632.33L237.02 632.41L237.20 632.50L237.37 632.61L237.53 632.72L237.70 632.86L237.86 633.01L238.03 633.19L238.20 633.40L238.59 633.97L238.97 634.69L239.35 635.53L239.73 636.47L240.10 637.50L240.46 638.60L240.81 639.76L241.15 640.95L241.48 642.15L241.80 643.36L242.11 644.55L242.40 645.70L242.72 647.06L243.02 648.48L243.30 649.94L243.56 651.45L243.80 652.97L244.03 654.51L244.26 656.05L244.48 657.57L244.70 659.07L244.93 660.54L245.16 661.95L245.40 663.30L245.60 664.37L245.79 665.42L245.99 666.46L246.18 667.48L246.37 668.49L246.56 669.47L246.75 670.44L246.95 671.39L247.15 672.32L247.36 673.24L247.57 674.13L247.80 675.00L247.99 675.73L248.18 676.52L248.38 677.34L248.58 678.17L248.79 678.99L249.00 679.77L249.21 680.49L249.42 681.14L249.64 681.68L249.86 682.11L250.08 682.39L250.30 682.50L250.46 682.47L250.63 682.37L250.80 682.20L250.97 681.97L251.15 681.69L251.32 681.37L251.50 681.01L251.67 680.62L251.83 680.22L252.00 679.81L252.15 679.40L252.30 679.00L252.53 678.25L252.72 677.38L252.88 676.43L253.02 675.40L253.15 674.31L253.28 673.20L253.42 672.08L253.57 670.96L253.74 669.87L253.95 668.84L254.20 667.87L254.50 667.00L254.77 666.35L255.06 665.72L255.36 665.11L255.68 664.52L256.02 663.94L256.37 663.39L256.73 662.86L257.12 662.34L257.51 661.85L257.93 661.38L258.36 660.93L258.80 660.50L259.23 660.12L259.68 659.76L260.13 659.43L260.60 659.13L261.08 658.84L261.58 658.57L262.09 658.31L262.63 658.06L263.18 657.81L263.76 657.58L264.37 657.34L265.00 657.10L265.98 656.76L267.05 656.43L268.20 656.11L269.40 655.81L270.65 655.52L271.93 655.25L273.22 654.99L274.51 654.75L275.79 654.53L277.05 654.33L278.25 654.16L279.40 654.00L280.34 653.89L281.25 653.80L282.15 653.74L283.04 653.69L283.92 653.65L284.79 653.63L285.66 653.61L286.52 653.59L287.38 653.58L288.25 653.56L289.12 653.54L290.00 653.50" fill="none" stroke="#000" stroke-width="1.9" stroke-dasharray="6.5 7" stroke-linejoin="round"/>
<circle cx="77.2" cy="654.5" r="3.75" fill="#000"/>
<circle cx="79.7" cy="661.8" r="3.75" fill="#000"/>
<circle cx="83.0" cy="670.6" r="3.75" fill="#000"/>
<circle cx="87.2" cy="662.8" r="3.75" fill="#000"/>
<circle cx="90.5" cy="662.3" r="3.75" fill="#000"/>
<circle cx="98.0" cy="654.0" r="3.75" fill="#000"/>
<circle cx="104.6" cy="650.7" r="3.75" fill="#000"/>
<circle cx="112.4" cy="649.4" r="3.75" fill="#000"/>
<circle cx="119.5" cy="644.9" r="3.75" fill="#000"/>
<circle cx="127.1" cy="640.7" r="3.75" fill="#000"/>
<circle cx="133.6" cy="629.1" r="3.75" fill="#000"/>
<circle cx="138.4" cy="623.6" r="3.75" fill="#000"/>
<circle cx="140.9" cy="642.8" r="3.75" fill="#000"/>
<circle cx="142.3" cy="670.7" r="3.75" fill="#000"/>
<circle cx="143.3" cy="692.0" r="3.75" fill="#000"/>
<circle cx="147.9" cy="692.7" r="3.75" fill="#000"/>
<circle cx="144.7" cy="703.5" r="3.75" fill="#000"/>
<circle cx="154.5" cy="680.0" r="3.75" fill="#000"/>
<circle cx="161.7" cy="675.1" r="3.75" fill="#000"/>
<circle cx="169.3" cy="669.8" r="3.75" fill="#000"/>
<circle cx="176.5" cy="672.3" r="3.75" fill="#000"/>
<circle cx="183.2" cy="671.5" r="3.75" fill="#000"/>
<circle cx="190.6" cy="675.9" r="3.75" fill="#000"/>
<circle cx="197.6" cy="682.6" r="3.75" fill="#000"/>
<circle cx="199.8" cy="688.7" r="3.75" fill="#000"/>
<circle cx="202.0" cy="679.9" r="3.75" fill="#000"/>
<circle cx="203.5" cy="657.5" r="3.75" fill="#000"/>
<circle cx="205.0" cy="615.6" r="3.75" fill="#000"/>
<circle cx="206.5" cy="579.8" r="3.75" fill="#000"/>
<circle cx="207.7" cy="567.1" r="3.75" fill="#000"/>
<circle cx="210.0" cy="588.2" r="3.75" fill="#000"/>
<circle cx="211.2" cy="599.7" r="3.75" fill="#000"/>
<circle cx="212.3" cy="608.5" r="3.75" fill="#000"/>
<circle cx="218.8" cy="630.5" r="3.75" fill="#000"/>
<circle cx="226.7" cy="630.5" r="3.75" fill="#000"/>
<circle cx="233.5" cy="635.9" r="3.75" fill="#000"/>
<circle cx="240.5" cy="652.5" r="3.75" fill="#000"/>
<circle cx="244.4" cy="673.6" r="3.75" fill="#000"/>
<circle cx="248.0" cy="676.6" r="3.75" fill="#000"/>
</g>
<rect x="34.50" y="544.50" width="256.00" height="218.00" fill="none" stroke="#2a2a2a" stroke-width="1"/>
<path d="M55.50 762.50V760.30M55.50 544.50V546.70M77.50 762.50V758.50M77.50 544.50V548.50M98.50 762.50V760.30M98.50 544.50V546.70M119.50 762.50V758.50M119.50 544.50V548.50M141.50 762.50V760.30M141.50 544.50V546.70M162.50 762.50V758.50M162.50 544.50V548.50M183.50 762.50V760.30M183.50 544.50V546.70M205.50 762.50V758.50M205.50 544.50V548.50M226.50 762.50V760.30M226.50 544.50V546.70M247.50 762.50V758.50M247.50 544.50V548.50M269.50 762.50V760.30M269.50 544.50V546.70M34.50 571.50H36.70M290.50 571.50H288.30M34.50 599.50H38.50M290.50 599.50H286.50M34.50 626.50H36.70M290.50 626.50H288.30M34.50 653.50H38.50M290.50 653.50H286.50M34.50 680.50H36.70M290.50 680.50H288.30M34.50 708.50H38.50M290.50 708.50H286.50M34.50 735.50H36.70M290.50 735.50H288.30" stroke="#2a2a2a" stroke-width="1" fill="none"/>
<text x="34.35" y="773.30" font-size="8.4" text-anchor="middle" letter-spacing="-0.2">0</text>
<text x="77.02" y="773.30" font-size="8.4" text-anchor="middle" letter-spacing="-0.2">30</text>
<text x="119.68" y="773.30" font-size="8.4" text-anchor="middle" letter-spacing="-0.2">60</text>
<text x="162.35" y="773.30" font-size="8.4" text-anchor="middle" letter-spacing="-0.2">90</text>
<text x="205.02" y="773.30" font-size="8.4" text-anchor="middle" letter-spacing="-0.2">120</text>
<text x="247.68" y="773.30" font-size="8.4" text-anchor="middle" letter-spacing="-0.2">150</text>
<text x="290.35" y="773.30" font-size="8.4" text-anchor="middle" letter-spacing="-0.2">180</text>
<text x="30.60" y="546.40" font-size="8.4" text-anchor="end" letter-spacing="-0.2">1.0</text>
<text x="30.60" y="600.90" font-size="8.4" text-anchor="end" letter-spacing="-0.2">0.5</text>
<text x="30.60" y="655.40" font-size="8.4" text-anchor="end" letter-spacing="-0.2">0.0</text>
<text x="30.60" y="709.90" font-size="8.4" text-anchor="end" letter-spacing="-0.2">-0.5</text>
<text x="30.60" y="764.40" font-size="8.4" text-anchor="end" letter-spacing="-0.2">-1.0</text>
<text x="38.80" y="560.70" font-size="10.70">(e) E<tspan font-size="7.49" dy="4.07" class="n">i</tspan><tspan dy="-4.07">=300.0 eV; (e</tspan><tspan font-size="6.42" dy="-5.88">-</tspan><tspan dy="5.88">, Hg)</tspan></text>
<clipPath id="cf"><rect x="326.50" y="543.50" width="256.00" height="220.00"/></clipPath>
<g clip-path="url(#cf)">
<path d="M326.60 653.50L327.77 653.46L328.93 653.42L330.09 653.37L331.25 653.33L332.42 653.29L333.58 653.24L334.74 653.20L335.91 653.16L337.08 653.12L338.25 653.08L339.42 653.04L340.60 653.00L341.84 652.96L343.14 652.91L344.48 652.85L345.84 652.80L347.19 652.74L348.54 652.69L349.85 652.65L351.11 652.61L352.30 652.59L353.41 652.57L354.42 652.58L355.30 652.60L355.70 652.62L356.06 652.63L356.40 652.65L356.72 652.67L357.02 652.70L357.31 652.73L357.59 652.76L357.87 652.79L358.14 652.84L358.42 652.88L358.70 652.94L359.00 653.00L359.30 653.06L359.61 653.13L359.91 653.19L360.21 653.25L360.51 653.32L360.80 653.40L361.10 653.49L361.40 653.59L361.70 653.71L362.00 653.85L362.30 654.01L362.60 654.20L363.05 654.52L363.51 654.90L363.98 655.33L364.45 655.81L364.93 656.32L365.40 656.85L365.86 657.41L366.32 657.99L366.77 658.57L367.20 659.16L367.61 659.73L368.00 660.30L368.37 660.88L368.72 661.48L369.05 662.11L369.36 662.75L369.67 663.40L369.96 664.05L370.25 664.70L370.54 665.33L370.82 665.94L371.11 666.53L371.40 667.09L371.70 667.60L371.92 667.98L372.15 668.37L372.37 668.77L372.58 669.18L372.80 669.57L373.02 669.94L373.24 670.28L373.46 670.58L373.69 670.83L373.92 671.03L374.16 671.15L374.40 671.20L374.68 671.15L374.97 671.00L375.26 670.76L375.56 670.44L375.86 670.06L376.16 669.63L376.47 669.17L376.79 668.67L377.11 668.17L377.43 667.66L377.76 667.17L378.10 666.70L378.57 666.04L379.05 665.33L379.53 664.58L380.02 663.78L380.52 662.97L381.04 662.14L381.56 661.31L382.11 660.49L382.67 659.69L383.26 658.91L383.87 658.18L384.50 657.50L385.16 656.86L385.85 656.24L386.57 655.64L387.31 655.06L388.06 654.50L388.84 653.96L389.62 653.44L390.42 652.93L391.21 652.45L392.01 651.98L392.81 651.53L393.60 651.10L394.35 650.72L395.10 650.37L395.86 650.06L396.63 649.76L397.40 649.48L398.18 649.21L398.95 648.95L399.73 648.68L400.50 648.41L401.27 648.13L402.04 647.82L402.80 647.50L403.57 647.16L404.35 646.82L405.14 646.48L405.92 646.14L406.70 645.78L407.48 645.42L408.25 645.05L409.01 644.66L409.76 644.26L410.49 643.83L411.21 643.38L411.90 642.90L412.58 642.39L413.25 641.86L413.90 641.32L414.55 640.75L415.18 640.16L415.79 639.56L416.40 638.93L416.99 638.30L417.56 637.64L418.12 636.98L418.67 636.29L419.20 635.60L419.74 634.83L420.26 634.00L420.76 633.12L421.25 632.22L421.72 631.29L422.17 630.37L422.61 629.45L423.05 628.56L423.47 627.70L423.88 626.90L424.29 626.16L424.70 625.50L424.95 625.10L425.21 624.69L425.46 624.27L425.71 623.85L425.96 623.45L426.20 623.08L426.43 622.73L426.66 622.44L426.89 622.20L427.10 622.02L427.31 621.92L427.50 621.90L427.69 621.97L427.87 622.13L428.05 622.37L428.21 622.67L428.37 623.03L428.52 623.45L428.66 623.90L428.80 624.39L428.93 624.90L429.06 625.43L429.18 625.97L429.30 626.50L429.52 627.66L429.70 628.98L429.85 630.44L429.97 632.01L430.07 633.69L430.15 635.45L430.22 637.27L430.29 639.13L430.35 641.02L430.42 642.90L430.50 644.77L430.60 646.60L430.72 648.73L430.84 650.92L430.96 653.15L431.07 655.42L431.19 657.72L431.30 660.03L431.42 662.37L431.53 664.71L431.65 667.05L431.76 669.38L431.88 671.70L432.00 674.00L432.12 676.36L432.23 678.84L432.34 681.40L432.44 684.00L432.55 686.60L432.66 689.16L432.78 691.63L432.90 693.99L433.03 696.19L433.17 698.18L433.33 699.93L433.50 701.40L433.57 701.94L433.65 702.48L433.72 703.01L433.80 703.52L433.88 704.01L433.95 704.45L434.04 704.86L434.12 705.21L434.21 705.50L434.30 705.71L434.40 705.85L434.50 705.90L434.65 705.78L434.81 705.45L434.98 704.94L435.16 704.26L435.34 703.46L435.53 702.57L435.73 701.60L435.93 700.60L436.14 699.59L436.35 698.60L436.57 697.66L436.80 696.80L437.06 695.84L437.33 694.84L437.59 693.82L437.86 692.78L438.14 691.72L438.43 690.66L438.74 689.61L439.06 688.57L439.41 687.55L439.78 686.56L440.17 685.61L440.60 684.70L441.01 683.91L441.43 683.14L441.88 682.39L442.34 681.65L442.82 680.93L443.32 680.22L443.83 679.54L444.36 678.87L444.90 678.22L445.45 677.59L446.02 676.99L446.60 676.40L447.16 675.86L447.73 675.32L448.32 674.80L448.92 674.30L449.52 673.81L450.15 673.34L450.78 672.89L451.44 672.47L452.10 672.08L452.78 671.72L453.48 671.39L454.20 671.10L455.00 670.83L455.82 670.59L456.68 670.38L457.55 670.21L458.44 670.08L459.35 669.97L460.26 669.89L461.18 669.84L462.10 669.82L463.01 669.82L463.91 669.85L464.80 669.90L465.70 669.99L466.61 670.12L467.54 670.29L468.47 670.50L469.40 670.73L470.33 670.98L471.24 671.25L472.13 671.53L473.00 671.81L473.84 672.09L474.64 672.35L475.40 672.60L475.94 672.77L476.45 672.92L476.95 673.06L477.44 673.19L477.91 673.33L478.37 673.47L478.82 673.63L479.26 673.80L479.70 674.00L480.13 674.23L480.57 674.49L481.00 674.80L481.56 675.26L482.13 675.79L482.69 676.37L483.24 677.01L483.78 677.68L484.32 678.39L484.83 679.12L485.33 679.86L485.81 680.61L486.27 681.35L486.70 682.09L487.10 682.80L487.44 683.47L487.75 684.16L488.03 684.88L488.28 685.61L488.52 686.34L488.75 687.07L488.97 687.79L489.19 688.49L489.40 689.15L489.62 689.79L489.85 690.37L490.10 690.90L490.27 691.23L490.44 691.58L490.62 691.93L490.81 692.28L490.99 692.62L491.17 692.93L491.35 693.22L491.52 693.47L491.68 693.67L491.83 693.81L491.97 693.89L492.10 693.90L492.30 693.66L492.45 693.11L492.54 692.28L492.60 691.23L492.63 690.00L492.64 688.63L492.62 687.17L492.60 685.65L492.58 684.14L492.57 682.66L492.57 681.27L492.60 680.00L492.64 678.77L492.68 677.58L492.72 676.40L492.77 675.22L492.81 674.04L492.85 672.85L492.89 671.63L492.93 670.36L492.97 669.05L493.01 667.68L493.06 666.23L493.10 664.70L493.18 662.02L493.25 659.10L493.33 655.99L493.42 652.71L493.50 649.30L493.59 645.79L493.67 642.22L493.76 638.61L493.84 635.00L493.93 631.42L494.02 627.91L494.10 624.50L494.18 621.13L494.26 617.75L494.34 614.36L494.41 610.97L494.49 607.57L494.57 604.18L494.65 600.80L494.73 597.43L494.81 594.08L494.90 590.76L495.00 587.46L495.10 584.20L495.20 580.96L495.30 577.38L495.41 573.58L495.51 569.68L495.62 565.80L495.74 562.05L495.86 558.56L495.98 555.43L496.10 552.80L496.23 550.77L496.36 549.46L496.50 549.00L496.62 549.34L496.74 550.31L496.85 551.82L496.98 553.77L497.10 556.07L497.23 558.63L497.36 561.35L497.49 564.15L497.64 566.92L497.78 569.58L497.94 572.04L498.10 574.20L498.25 575.96L498.40 577.68L498.56 579.39L498.72 581.07L498.89 582.74L499.05 584.40L499.23 586.05L499.41 587.69L499.60 589.33L499.79 590.98L499.99 592.63L500.20 594.30L500.41 595.99L500.63 597.70L500.84 599.42L501.07 601.14L501.29 602.87L501.53 604.59L501.77 606.30L502.03 607.98L502.30 609.64L502.58 611.27L502.88 612.86L503.20 614.40L503.48 615.69L503.75 616.96L504.02 618.23L504.30 619.48L504.59 620.71L504.90 621.92L505.22 623.10L505.56 624.25L505.92 625.37L506.31 626.46L506.74 627.50L507.20 628.50L507.61 629.30L508.04 630.07L508.49 630.82L508.96 631.54L509.45 632.25L509.95 632.93L510.47 633.59L511.00 634.22L511.54 634.84L512.09 635.45L512.64 636.03L513.20 636.60L513.73 637.10L514.27 637.58L514.83 638.05L515.40 638.49L515.99 638.92L516.57 639.33L517.16 639.73L517.75 640.12L518.33 640.50L518.90 640.88L519.46 641.24L520.00 641.60L520.45 641.89L520.90 642.15L521.34 642.39L521.79 642.62L522.23 642.85L522.66 643.07L523.09 643.30L523.52 643.53L523.93 643.79L524.33 644.06L524.72 644.36L525.10 644.70L525.51 645.11L525.91 645.55L526.30 646.01L526.69 646.50L527.05 647.01L527.41 647.53L527.76 648.07L528.09 648.62L528.41 649.18L528.72 649.75L529.02 650.32L529.30 650.90L529.58 651.52L529.84 652.15L530.08 652.79L530.30 653.45L530.50 654.11L530.70 654.79L530.89 655.47L531.07 656.17L531.25 656.89L531.43 657.61L531.61 658.35L531.80 659.10L532.03 660.05L532.26 661.04L532.48 662.07L532.70 663.13L532.92 664.21L533.13 665.30L533.34 666.38L533.55 667.46L533.76 668.52L533.97 669.55L534.19 670.55L534.40 671.50L534.57 672.26L534.74 673.03L534.91 673.81L535.07 674.57L535.24 675.33L535.40 676.06L535.57 676.77L535.74 677.45L535.92 678.09L536.10 678.68L536.30 679.22L536.50 679.70L536.62 679.95L536.74 680.20L536.86 680.45L536.98 680.69L537.10 680.92L537.23 681.13L537.36 681.33L537.49 681.49L537.61 681.63L537.74 681.73L537.87 681.79L538.00 681.80L538.17 681.74L538.34 681.59L538.51 681.37L538.68 681.09L538.85 680.74L539.03 680.36L539.20 679.94L539.38 679.49L539.55 679.04L539.73 678.58L539.91 678.13L540.10 677.70L540.37 677.06L540.64 676.36L540.91 675.61L541.19 674.83L541.46 674.01L541.74 673.19L542.04 672.35L542.34 671.52L542.65 670.70L542.98 669.90L543.33 669.13L543.70 668.40L544.06 667.74L544.43 667.08L544.80 666.42L545.19 665.78L545.59 665.14L546.00 664.52L546.42 663.91L546.86 663.32L547.32 662.75L547.79 662.21L548.29 661.69L548.80 661.20L549.32 660.75L549.85 660.33L550.40 659.94L550.97 659.56L551.55 659.21L552.15 658.87L552.76 658.54L553.39 658.24L554.02 657.94L554.67 657.65L555.33 657.37L556.00 657.10L556.77 656.80L557.56 656.52L558.36 656.26L559.18 656.01L560.01 655.78L560.86 655.56L561.73 655.36L562.61 655.17L563.51 654.99L564.42 654.82L565.35 654.65L566.30 654.50L567.49 654.33L568.72 654.20L569.98 654.08L571.28 653.99L572.60 653.91L573.93 653.85L575.28 653.80L576.64 653.75L577.99 653.69L579.34 653.64L580.68 653.58L582.00 653.50" fill="none" stroke="#f00" stroke-width="2" stroke-linejoin="round"/>
<circle cx="482.6" cy="671.3" r="3.75" fill="#000"/>
<circle cx="485.6" cy="675.2" r="3.75" fill="#000"/>
<circle cx="488.3" cy="679.2" r="3.75" fill="#000"/>
<circle cx="489.8" cy="680.2" r="3.75" fill="#000"/>
<circle cx="495.7" cy="677.0" r="3.75" fill="#000"/>
<circle cx="491.5" cy="691.7" r="3.75" fill="#000"/>
<circle cx="494.2" cy="698.1" r="3.75" fill="#000"/>
<circle cx="496.1" cy="652.5" r="3.75" fill="#000"/>
<circle cx="496.7" cy="628.2" r="3.75" fill="#000"/>
<circle cx="498.7" cy="603.0" r="3.75" fill="#000"/>
<circle cx="499.7" cy="614.4" r="3.75" fill="#000"/>
<circle cx="501.2" cy="620.5" r="3.75" fill="#000"/>
<circle cx="503.2" cy="624.5" r="3.75" fill="#000"/>
<circle cx="505.2" cy="628.5" r="3.75" fill="#000"/>
<circle cx="507.2" cy="635.5" r="3.75" fill="#000"/>
<circle cx="510.2" cy="638.6" r="3.75" fill="#000"/>
</g>
<rect x="326.50" y="544.50" width="256.00" height="218.00" fill="none" stroke="#2a2a2a" stroke-width="1"/>
<path d="M347.50 762.50V760.30M347.50 544.50V546.70M369.50 762.50V758.50M369.50 544.50V548.50M390.50 762.50V760.30M390.50 544.50V546.70M411.50 762.50V758.50M411.50 544.50V548.50M433.50 762.50V760.30M433.50 544.50V546.70M454.50 762.50V758.50M454.50 544.50V548.50M475.50 762.50V760.30M475.50 544.50V546.70M497.50 762.50V758.50M497.50 544.50V548.50M518.50 762.50V760.30M518.50 544.50V546.70M539.50 762.50V758.50M539.50 544.50V548.50M561.50 762.50V760.30M561.50 544.50V546.70M326.50 571.50H328.70M582.50 571.50H580.30M326.50 599.50H330.50M582.50 599.50H578.50M326.50 626.50H328.70M582.50 626.50H580.30M326.50 653.50H330.50M582.50 653.50H578.50M326.50 680.50H328.70M582.50 680.50H580.30M326.50 708.50H330.50M582.50 708.50H578.50M326.50 735.50H328.70M582.50 735.50H580.30" stroke="#2a2a2a" stroke-width="1" fill="none"/>
<text x="326.35" y="773.30" font-size="8.4" text-anchor="middle" letter-spacing="-0.2">0</text>
<text x="369.02" y="773.30" font-size="8.4" text-anchor="middle" letter-spacing="-0.2">30</text>
<text x="411.68" y="773.30" font-size="8.4" text-anchor="middle" letter-spacing="-0.2">60</text>
<text x="454.35" y="773.30" font-size="8.4" text-anchor="middle" letter-spacing="-0.2">90</text>
<text x="497.02" y="773.30" font-size="8.4" text-anchor="middle" letter-spacing="-0.2">120</text>
<text x="539.68" y="773.30" font-size="8.4" text-anchor="middle" letter-spacing="-0.2">150</text>
<text x="582.35" y="773.30" font-size="8.4" text-anchor="middle" letter-spacing="-0.2">180</text>
<text x="322.60" y="546.40" font-size="8.4" text-anchor="end" letter-spacing="-0.2">1.0</text>
<text x="322.60" y="600.90" font-size="8.4" text-anchor="end" letter-spacing="-0.2">0.5</text>
<text x="322.60" y="655.40" font-size="8.4" text-anchor="end" letter-spacing="-0.2">0.0</text>
<text x="322.60" y="709.90" font-size="8.4" text-anchor="end" letter-spacing="-0.2">-0.5</text>
<text x="322.60" y="764.40" font-size="8.4" text-anchor="end" letter-spacing="-0.2">-1.0</text>
<text x="332.10" y="560.70" font-size="10.70">(f) E<tspan font-size="7.49" dy="4.07" class="n">i</tspan><tspan dy="-4.07">=320.0 eV; (e</tspan><tspan font-size="6.42" dy="-5.88">-</tspan><tspan dy="5.88">, Hg)</tspan></text>
<path d="M44.1 197.4H65.4" stroke="#f00" stroke-width="1.8"/>
<text x="67.1" y="200.6" font-size="8.95">Present Work</text>
<path d="M44.4 208.4H51.4" stroke="#000" stroke-width="1.9"/>
<text x="67.1" y="212.0" font-size="8.95">Walker/1969[53]</text>
<path d="M463.0 193.8H484.1" stroke="#f00" stroke-width="1.8"/>
<text x="485.9" y="196.9" font-size="8.85">Present Work</text>
<circle cx="473.5" cy="205.2" r="5.2" fill="#000"/>
<text x="485.9" y="208.5" font-size="8.85">Eitel et al./1967[50]</text>
<path d="M50.5 324.5H75.2" stroke="#f00" stroke-width="1.8"/>
<text x="77.2" y="328.0" font-size="9.95">Present Work</text>
<circle cx="62.7" cy="337.8" r="5.2" fill="#000"/>
<text x="77.2" y="341.0" font-size="9.95">Jost &amp; Kessler/1966[52]</text>
<path d="M51.3 351.1H66.0" stroke="#000" stroke-width="1.9" stroke-dasharray="5 4.5"/>
<text x="77.2" y="354.3" font-size="9.95">Walker/1969[53]</text>
<path d="M345.9 462.8H370.7" stroke="#f00" stroke-width="1.8"/>
<text x="372.3" y="466.5" font-size="9.95">Present Work</text>
<circle cx="357.9" cy="476.6" r="5.2" fill="#000"/>
<text x="372.3" y="479.8" font-size="9.95">Jost &amp; Kessler/1966[52]</text>
<path d="M131.3 726.4H156.2" stroke="#f00" stroke-width="1.8"/>
<text x="157.8" y="729.6" font-size="9.95">Present Work</text>
<circle cx="143.6" cy="739.1" r="5.2" fill="#000"/>
<text x="157.8" y="742.9" font-size="9.95">Jost &amp; Kessler/1966[52]</text>
<path d="M131.3 752.0H153.7" stroke="#000" stroke-width="1.9" stroke-dasharray="7.6 7.1"/>
<text x="157.8" y="755.4" font-size="9.95">Walker/1969[53]</text>
<path d="M342.0 738.1H365.3" stroke="#f00" stroke-width="1.8"/>
<text x="367.8" y="741.3" font-size="9.95">Present Work</text>
<circle cx="353.9" cy="750.6" r="5.2" fill="#000"/>
<text x="367.8" y="754.6" font-size="9.95">Jost &amp; Kessler/1966[52]</text>
<text transform="translate(7.90 120.25) rotate(-90)" font-size="11.0" text-anchor="middle">Spin Polarization S<tspan class="n">(θ)</tspan></text>
<text transform="translate(7.90 390.55) rotate(-90)" font-size="11.0" text-anchor="middle">Spin Polarization S<tspan class="n">(θ)</tspan></text>
<text transform="translate(7.90 660.50) rotate(-90)" font-size="11.0" text-anchor="middle">Spin Polarization S<tspan class="n">(θ)</tspan></text>
<text transform="translate(600.20 124.55) rotate(-90)" font-size="11.0" text-anchor="middle">Spin Polarization S<tspan class="n">(θ)</tspan></text>
<text transform="translate(598.30 393.85) rotate(-90)" font-size="11.0" text-anchor="middle">Spin Polarization S<tspan class="n">(θ)</tspan></text>
<text transform="translate(596.60 652.70) rotate(-90)" font-size="11.0" text-anchor="middle">Spin Polarization S<tspan class="n">(θ)</tspan></text>
<text x="162.4" y="791.9" font-size="10.6" text-anchor="middle">Scattering Angle <tspan class="n">(θ)</tspan></text>
<text x="454.3" y="791.9" font-size="10.6" text-anchor="middle">Scattering Angle <tspan class="n">(θ)</tspan></text>
</svg></body></html>
